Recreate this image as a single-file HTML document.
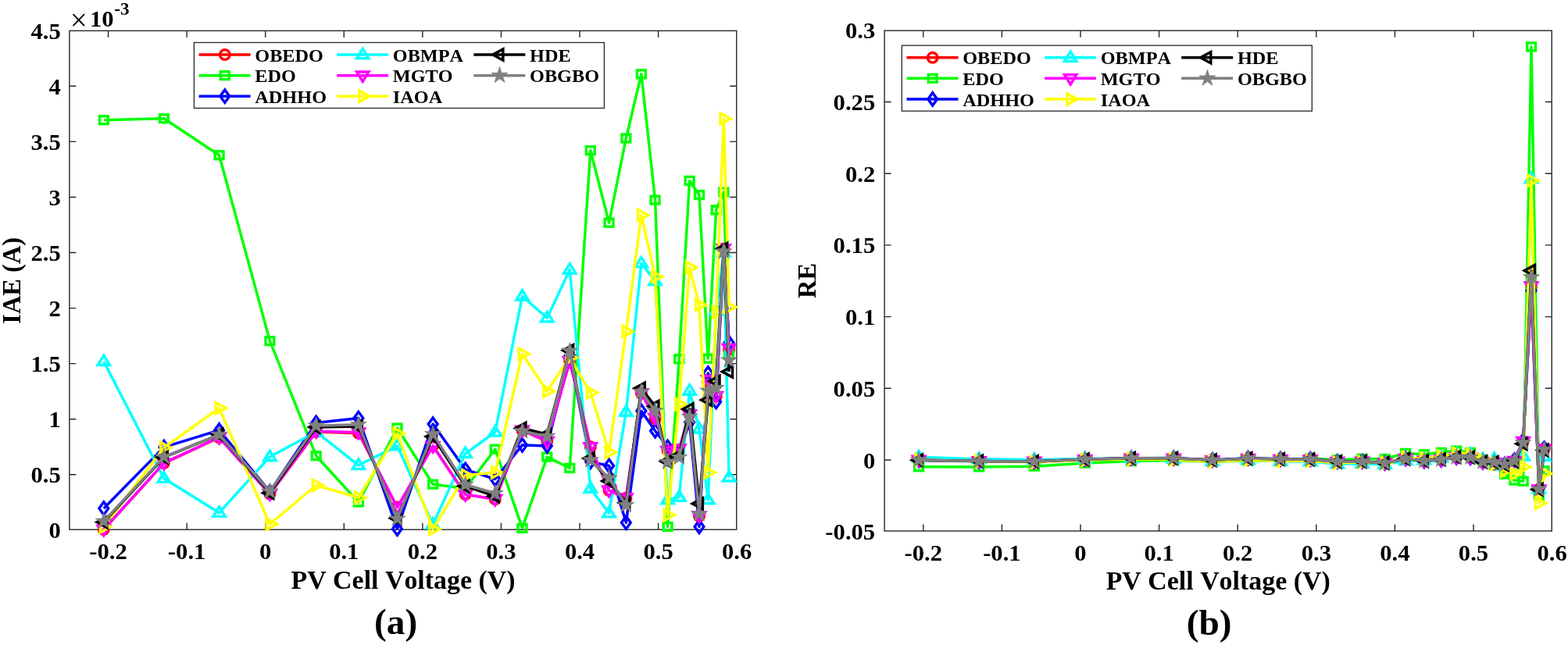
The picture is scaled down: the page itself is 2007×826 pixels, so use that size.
<!DOCTYPE html>
<html lang="en">
<head>
<meta charset="utf-8">
<title>IAE and RE versus PV cell voltage</title>
<style>
html,body{margin:0;padding:0;background:#ffffff;}
body{width:2007px;height:826px;overflow:hidden;}
svg{display:block;}
text{font-family:"Liberation Serif","DejaVu Serif",serif;font-weight:bold;fill:#000000;font-kerning:none;}
.tk{font-size:30.5px;}
.lg{font-size:22.8px;}
.ax{font-size:33.3px;}
.yl{font-size:34px;}
.cap{font-size:47.3px;}
.ex{font-size:23px;}
.mul{font-size:39px;font-weight:normal;}
</style>
</head>
<body>
<svg width="2007" height="826" viewBox="0 0 2007 826">
<rect x="0" y="0" width="2007" height="826" fill="#ffffff"/>
<g id="plot-a">
<rect x="88.9" y="39.4" width="853.9" height="638.8" fill="none" stroke="#262626" stroke-width="1.4"/>
<path d="M138.54 678.2v-8.5 M138.54 39.4v8.5" stroke="#262626" stroke-width="1.4" fill="none"/>
<path d="M239.12 678.2v-8.5 M239.12 39.4v8.5" stroke="#262626" stroke-width="1.4" fill="none"/>
<path d="M339.7 678.2v-8.5 M339.7 39.4v8.5" stroke="#262626" stroke-width="1.4" fill="none"/>
<path d="M440.28 678.2v-8.5 M440.28 39.4v8.5" stroke="#262626" stroke-width="1.4" fill="none"/>
<path d="M540.86 678.2v-8.5 M540.86 39.4v8.5" stroke="#262626" stroke-width="1.4" fill="none"/>
<path d="M641.44 678.2v-8.5 M641.44 39.4v8.5" stroke="#262626" stroke-width="1.4" fill="none"/>
<path d="M742.02 678.2v-8.5 M742.02 39.4v8.5" stroke="#262626" stroke-width="1.4" fill="none"/>
<path d="M842.6 678.2v-8.5 M842.6 39.4v8.5" stroke="#262626" stroke-width="1.4" fill="none"/>
<path d="M88.9 607.82h8.5 M942.8 607.82h-8.5" stroke="#262626" stroke-width="1.4" fill="none"/>
<path d="M88.9 536.75h8.5 M942.8 536.75h-8.5" stroke="#262626" stroke-width="1.4" fill="none"/>
<path d="M88.9 465.67h8.5 M942.8 465.67h-8.5" stroke="#262626" stroke-width="1.4" fill="none"/>
<path d="M88.9 394.6h8.5 M942.8 394.6h-8.5" stroke="#262626" stroke-width="1.4" fill="none"/>
<path d="M88.9 323.52h8.5 M942.8 323.52h-8.5" stroke="#262626" stroke-width="1.4" fill="none"/>
<path d="M88.9 252.45h8.5 M942.8 252.45h-8.5" stroke="#262626" stroke-width="1.4" fill="none"/>
<path d="M88.9 181.37h8.5 M942.8 181.37h-8.5" stroke="#262626" stroke-width="1.4" fill="none"/>
<path d="M88.9 110.3h8.5 M942.8 110.3h-8.5" stroke="#262626" stroke-width="1.4" fill="none"/>
<g>
<polyline points="132.81,678 209.85,593.08 280.56,560.42 345.43,632.56 404.67,553.04 458.89,554.74 508.47,649.6 554.14,571.07 595.68,633.13 633.8,639.38 668.5,551.19 700.28,565.11 729.25,462.16 755.8,572.35 779.54,628.02 801.36,637.67 820.87,503.34 838.58,536 854.57,577.18 869.25,575.76 882.63,530.32 895,660.96 906.27,489.14 916.63,507.6 926.38,318.46 933.12,447.96" fill="none" stroke="#ff0000" stroke-width="3.5" stroke-linejoin="round" stroke-linecap="butt"/>
<circle cx="132.81" cy="678" r="6.3" fill="none" stroke="#ff0000" stroke-width="3.4"/>
<circle cx="209.85" cy="593.08" r="6.3" fill="none" stroke="#ff0000" stroke-width="3.4"/>
<circle cx="280.56" cy="560.42" r="6.3" fill="none" stroke="#ff0000" stroke-width="3.4"/>
<circle cx="345.43" cy="632.56" r="6.3" fill="none" stroke="#ff0000" stroke-width="3.4"/>
<circle cx="404.67" cy="553.04" r="6.3" fill="none" stroke="#ff0000" stroke-width="3.4"/>
<circle cx="458.89" cy="554.74" r="6.3" fill="none" stroke="#ff0000" stroke-width="3.4"/>
<circle cx="508.47" cy="649.6" r="6.3" fill="none" stroke="#ff0000" stroke-width="3.4"/>
<circle cx="554.14" cy="571.07" r="6.3" fill="none" stroke="#ff0000" stroke-width="3.4"/>
<circle cx="595.68" cy="633.13" r="6.3" fill="none" stroke="#ff0000" stroke-width="3.4"/>
<circle cx="633.8" cy="639.38" r="6.3" fill="none" stroke="#ff0000" stroke-width="3.4"/>
<circle cx="668.5" cy="551.19" r="6.3" fill="none" stroke="#ff0000" stroke-width="3.4"/>
<circle cx="700.28" cy="565.11" r="6.3" fill="none" stroke="#ff0000" stroke-width="3.4"/>
<circle cx="729.25" cy="462.16" r="6.3" fill="none" stroke="#ff0000" stroke-width="3.4"/>
<circle cx="755.8" cy="572.35" r="6.3" fill="none" stroke="#ff0000" stroke-width="3.4"/>
<circle cx="779.54" cy="628.02" r="6.3" fill="none" stroke="#ff0000" stroke-width="3.4"/>
<circle cx="801.36" cy="637.67" r="6.3" fill="none" stroke="#ff0000" stroke-width="3.4"/>
<circle cx="820.87" cy="503.34" r="6.3" fill="none" stroke="#ff0000" stroke-width="3.4"/>
<circle cx="838.58" cy="536" r="6.3" fill="none" stroke="#ff0000" stroke-width="3.4"/>
<circle cx="854.57" cy="577.18" r="6.3" fill="none" stroke="#ff0000" stroke-width="3.4"/>
<circle cx="869.25" cy="575.76" r="6.3" fill="none" stroke="#ff0000" stroke-width="3.4"/>
<circle cx="882.63" cy="530.32" r="6.3" fill="none" stroke="#ff0000" stroke-width="3.4"/>
<circle cx="895" cy="660.96" r="6.3" fill="none" stroke="#ff0000" stroke-width="3.4"/>
<circle cx="906.27" cy="489.14" r="6.3" fill="none" stroke="#ff0000" stroke-width="3.4"/>
<circle cx="916.63" cy="507.6" r="6.3" fill="none" stroke="#ff0000" stroke-width="3.4"/>
<circle cx="926.38" cy="318.46" r="6.3" fill="none" stroke="#ff0000" stroke-width="3.4"/>
<circle cx="933.12" cy="447.96" r="6.3" fill="none" stroke="#ff0000" stroke-width="3.4"/>
</g>
<g>
<polyline points="132.81,153.74 209.85,151.75 280.56,198.75 345.43,436.6 404.67,583.71 458.89,643.07 508.47,548.07 554.14,620.21 595.68,625.46 633.8,575.19 668.5,676.44 700.28,585.13 729.25,599.47 755.8,192.64 779.54,285.23 801.36,177.02 820.87,94.81 838.58,256.12 854.57,674.45 869.25,459.75 882.63,231.41 895,249.59 906.27,459.18 916.63,268.9 926.38,246.04 933.12,454.35" fill="none" stroke="#00ff00" stroke-width="3.5" stroke-linejoin="round" stroke-linecap="butt"/>
<rect x="127.36" y="148.79" width="10.9" height="9.9" fill="none" stroke="#00ff00" stroke-width="3.4"/>
<rect x="204.4" y="146.8" width="10.9" height="9.9" fill="none" stroke="#00ff00" stroke-width="3.4"/>
<rect x="275.11" y="193.8" width="10.9" height="9.9" fill="none" stroke="#00ff00" stroke-width="3.4"/>
<rect x="339.98" y="431.65" width="10.9" height="9.9" fill="none" stroke="#00ff00" stroke-width="3.4"/>
<rect x="399.22" y="578.76" width="10.9" height="9.9" fill="none" stroke="#00ff00" stroke-width="3.4"/>
<rect x="453.44" y="638.12" width="10.9" height="9.9" fill="none" stroke="#00ff00" stroke-width="3.4"/>
<rect x="503.02" y="543.12" width="10.9" height="9.9" fill="none" stroke="#00ff00" stroke-width="3.4"/>
<rect x="548.69" y="615.26" width="10.9" height="9.9" fill="none" stroke="#00ff00" stroke-width="3.4"/>
<rect x="590.23" y="620.51" width="10.9" height="9.9" fill="none" stroke="#00ff00" stroke-width="3.4"/>
<rect x="628.35" y="570.24" width="10.9" height="9.9" fill="none" stroke="#00ff00" stroke-width="3.4"/>
<rect x="663.05" y="671.49" width="10.9" height="9.9" fill="none" stroke="#00ff00" stroke-width="3.4"/>
<rect x="694.83" y="580.18" width="10.9" height="9.9" fill="none" stroke="#00ff00" stroke-width="3.4"/>
<rect x="723.8" y="594.52" width="10.9" height="9.9" fill="none" stroke="#00ff00" stroke-width="3.4"/>
<rect x="750.35" y="187.69" width="10.9" height="9.9" fill="none" stroke="#00ff00" stroke-width="3.4"/>
<rect x="774.09" y="280.28" width="10.9" height="9.9" fill="none" stroke="#00ff00" stroke-width="3.4"/>
<rect x="795.91" y="172.07" width="10.9" height="9.9" fill="none" stroke="#00ff00" stroke-width="3.4"/>
<rect x="815.42" y="89.86" width="10.9" height="9.9" fill="none" stroke="#00ff00" stroke-width="3.4"/>
<rect x="833.13" y="251.17" width="10.9" height="9.9" fill="none" stroke="#00ff00" stroke-width="3.4"/>
<rect x="849.12" y="669.5" width="10.9" height="9.9" fill="none" stroke="#00ff00" stroke-width="3.4"/>
<rect x="863.8" y="454.8" width="10.9" height="9.9" fill="none" stroke="#00ff00" stroke-width="3.4"/>
<rect x="877.18" y="226.46" width="10.9" height="9.9" fill="none" stroke="#00ff00" stroke-width="3.4"/>
<rect x="889.55" y="244.64" width="10.9" height="9.9" fill="none" stroke="#00ff00" stroke-width="3.4"/>
<rect x="900.82" y="454.23" width="10.9" height="9.9" fill="none" stroke="#00ff00" stroke-width="3.4"/>
<rect x="911.18" y="263.95" width="10.9" height="9.9" fill="none" stroke="#00ff00" stroke-width="3.4"/>
<rect x="920.93" y="241.09" width="10.9" height="9.9" fill="none" stroke="#00ff00" stroke-width="3.4"/>
<rect x="927.67" y="449.4" width="10.9" height="9.9" fill="none" stroke="#00ff00" stroke-width="3.4"/>
</g>
<g>
<polyline points="132.81,651.02 209.85,572.64 280.56,550.91 345.43,629.72 404.67,541.4 458.89,535.57 508.47,677.15 554.14,543.1 595.68,601.32 633.8,613.53 668.5,569.94 700.28,571.07 729.25,455.06 755.8,591.38 779.54,596.49 801.36,669.2 820.87,526.34 838.58,551.76 854.57,572.35 869.25,579.59 882.63,540.83 895,674.45 906.27,478.06 916.63,514.42 926.38,323 933.12,438.87" fill="none" stroke="#0000ff" stroke-width="3.5" stroke-linejoin="round" stroke-linecap="butt"/>
<polygon points="132.81,642.82 138.71,651.02 132.81,659.22 126.91,651.02" fill="none" stroke="#0000ff" stroke-width="3.4" stroke-linejoin="miter" stroke-miterlimit="10"/>
<polygon points="209.85,564.44 215.75,572.64 209.85,580.84 203.95,572.64" fill="none" stroke="#0000ff" stroke-width="3.4" stroke-linejoin="miter" stroke-miterlimit="10"/>
<polygon points="280.56,542.71 286.46,550.91 280.56,559.11 274.66,550.91" fill="none" stroke="#0000ff" stroke-width="3.4" stroke-linejoin="miter" stroke-miterlimit="10"/>
<polygon points="345.43,621.52 351.33,629.72 345.43,637.92 339.53,629.72" fill="none" stroke="#0000ff" stroke-width="3.4" stroke-linejoin="miter" stroke-miterlimit="10"/>
<polygon points="404.67,533.2 410.57,541.4 404.67,549.6 398.77,541.4" fill="none" stroke="#0000ff" stroke-width="3.4" stroke-linejoin="miter" stroke-miterlimit="10"/>
<polygon points="458.89,527.37 464.79,535.57 458.89,543.77 452.99,535.57" fill="none" stroke="#0000ff" stroke-width="3.4" stroke-linejoin="miter" stroke-miterlimit="10"/>
<polygon points="508.47,668.95 514.37,677.15 508.47,685.35 502.57,677.15" fill="none" stroke="#0000ff" stroke-width="3.4" stroke-linejoin="miter" stroke-miterlimit="10"/>
<polygon points="554.14,534.9 560.04,543.1 554.14,551.3 548.24,543.1" fill="none" stroke="#0000ff" stroke-width="3.4" stroke-linejoin="miter" stroke-miterlimit="10"/>
<polygon points="595.68,593.12 601.58,601.32 595.68,609.52 589.78,601.32" fill="none" stroke="#0000ff" stroke-width="3.4" stroke-linejoin="miter" stroke-miterlimit="10"/>
<polygon points="633.8,605.33 639.7,613.53 633.8,621.73 627.9,613.53" fill="none" stroke="#0000ff" stroke-width="3.4" stroke-linejoin="miter" stroke-miterlimit="10"/>
<polygon points="668.5,561.74 674.4,569.94 668.5,578.14 662.6,569.94" fill="none" stroke="#0000ff" stroke-width="3.4" stroke-linejoin="miter" stroke-miterlimit="10"/>
<polygon points="700.28,562.87 706.18,571.07 700.28,579.27 694.38,571.07" fill="none" stroke="#0000ff" stroke-width="3.4" stroke-linejoin="miter" stroke-miterlimit="10"/>
<polygon points="729.25,446.86 735.15,455.06 729.25,463.26 723.35,455.06" fill="none" stroke="#0000ff" stroke-width="3.4" stroke-linejoin="miter" stroke-miterlimit="10"/>
<polygon points="755.8,583.18 761.7,591.38 755.8,599.58 749.9,591.38" fill="none" stroke="#0000ff" stroke-width="3.4" stroke-linejoin="miter" stroke-miterlimit="10"/>
<polygon points="779.54,588.29 785.44,596.49 779.54,604.69 773.64,596.49" fill="none" stroke="#0000ff" stroke-width="3.4" stroke-linejoin="miter" stroke-miterlimit="10"/>
<polygon points="801.36,661 807.26,669.2 801.36,677.4 795.46,669.2" fill="none" stroke="#0000ff" stroke-width="3.4" stroke-linejoin="miter" stroke-miterlimit="10"/>
<polygon points="820.87,518.14 826.77,526.34 820.87,534.54 814.97,526.34" fill="none" stroke="#0000ff" stroke-width="3.4" stroke-linejoin="miter" stroke-miterlimit="10"/>
<polygon points="838.58,543.56 844.48,551.76 838.58,559.96 832.68,551.76" fill="none" stroke="#0000ff" stroke-width="3.4" stroke-linejoin="miter" stroke-miterlimit="10"/>
<polygon points="854.57,564.15 860.47,572.35 854.57,580.55 848.67,572.35" fill="none" stroke="#0000ff" stroke-width="3.4" stroke-linejoin="miter" stroke-miterlimit="10"/>
<polygon points="869.25,571.39 875.15,579.59 869.25,587.79 863.35,579.59" fill="none" stroke="#0000ff" stroke-width="3.4" stroke-linejoin="miter" stroke-miterlimit="10"/>
<polygon points="882.63,532.63 888.53,540.83 882.63,549.03 876.73,540.83" fill="none" stroke="#0000ff" stroke-width="3.4" stroke-linejoin="miter" stroke-miterlimit="10"/>
<polygon points="895,666.25 900.9,674.45 895,682.65 889.1,674.45" fill="none" stroke="#0000ff" stroke-width="3.4" stroke-linejoin="miter" stroke-miterlimit="10"/>
<polygon points="906.27,469.86 912.17,478.06 906.27,486.26 900.37,478.06" fill="none" stroke="#0000ff" stroke-width="3.4" stroke-linejoin="miter" stroke-miterlimit="10"/>
<polygon points="916.63,506.22 922.53,514.42 916.63,522.62 910.73,514.42" fill="none" stroke="#0000ff" stroke-width="3.4" stroke-linejoin="miter" stroke-miterlimit="10"/>
<polygon points="926.38,314.8 932.28,323 926.38,331.2 920.48,323" fill="none" stroke="#0000ff" stroke-width="3.4" stroke-linejoin="miter" stroke-miterlimit="10"/>
<polygon points="933.12,430.67 939.02,438.87 933.12,447.07 927.22,438.87" fill="none" stroke="#0000ff" stroke-width="3.4" stroke-linejoin="miter" stroke-miterlimit="10"/>
</g>
<g>
<polyline points="132.81,462.87 209.85,612.68 280.56,656.7 345.43,584.99 404.67,553.04 458.89,595.78 508.47,571.07 554.14,671.61 595.68,580.87 633.8,553.47 668.5,379.37 700.28,407.21 729.25,345.44 755.8,625.6 779.54,657.13 801.36,527.48 820.87,337.2 838.58,359.92 854.57,640.09 869.25,636.54 882.63,500.5 895,549.35 906.27,640.09 916.63,398.26 926.38,323.43 933.12,611.26" fill="none" stroke="#00ffff" stroke-width="3.5" stroke-linejoin="round" stroke-linecap="butt"/>
<polygon points="132.81,455.07 140.46,467.57 125.16,467.57" fill="none" stroke="#00ffff" stroke-width="3.4" stroke-linejoin="miter" stroke-miterlimit="10"/>
<polygon points="209.85,604.88 217.5,617.38 202.2,617.38" fill="none" stroke="#00ffff" stroke-width="3.4" stroke-linejoin="miter" stroke-miterlimit="10"/>
<polygon points="280.56,648.9 288.21,661.4 272.91,661.4" fill="none" stroke="#00ffff" stroke-width="3.4" stroke-linejoin="miter" stroke-miterlimit="10"/>
<polygon points="345.43,577.19 353.08,589.69 337.78,589.69" fill="none" stroke="#00ffff" stroke-width="3.4" stroke-linejoin="miter" stroke-miterlimit="10"/>
<polygon points="404.67,545.24 412.32,557.74 397.02,557.74" fill="none" stroke="#00ffff" stroke-width="3.4" stroke-linejoin="miter" stroke-miterlimit="10"/>
<polygon points="458.89,587.98 466.54,600.48 451.24,600.48" fill="none" stroke="#00ffff" stroke-width="3.4" stroke-linejoin="miter" stroke-miterlimit="10"/>
<polygon points="508.47,563.27 516.12,575.77 500.82,575.77" fill="none" stroke="#00ffff" stroke-width="3.4" stroke-linejoin="miter" stroke-miterlimit="10"/>
<polygon points="554.14,663.81 561.79,676.31 546.49,676.31" fill="none" stroke="#00ffff" stroke-width="3.4" stroke-linejoin="miter" stroke-miterlimit="10"/>
<polygon points="595.68,573.07 603.33,585.57 588.03,585.57" fill="none" stroke="#00ffff" stroke-width="3.4" stroke-linejoin="miter" stroke-miterlimit="10"/>
<polygon points="633.8,545.67 641.45,558.17 626.15,558.17" fill="none" stroke="#00ffff" stroke-width="3.4" stroke-linejoin="miter" stroke-miterlimit="10"/>
<polygon points="668.5,371.57 676.15,384.07 660.85,384.07" fill="none" stroke="#00ffff" stroke-width="3.4" stroke-linejoin="miter" stroke-miterlimit="10"/>
<polygon points="700.28,399.41 707.93,411.91 692.63,411.91" fill="none" stroke="#00ffff" stroke-width="3.4" stroke-linejoin="miter" stroke-miterlimit="10"/>
<polygon points="729.25,337.64 736.9,350.14 721.6,350.14" fill="none" stroke="#00ffff" stroke-width="3.4" stroke-linejoin="miter" stroke-miterlimit="10"/>
<polygon points="755.8,617.8 763.45,630.3 748.15,630.3" fill="none" stroke="#00ffff" stroke-width="3.4" stroke-linejoin="miter" stroke-miterlimit="10"/>
<polygon points="779.54,649.33 787.19,661.83 771.89,661.83" fill="none" stroke="#00ffff" stroke-width="3.4" stroke-linejoin="miter" stroke-miterlimit="10"/>
<polygon points="801.36,519.68 809.01,532.18 793.71,532.18" fill="none" stroke="#00ffff" stroke-width="3.4" stroke-linejoin="miter" stroke-miterlimit="10"/>
<polygon points="820.87,329.4 828.52,341.9 813.22,341.9" fill="none" stroke="#00ffff" stroke-width="3.4" stroke-linejoin="miter" stroke-miterlimit="10"/>
<polygon points="838.58,352.12 846.23,364.62 830.93,364.62" fill="none" stroke="#00ffff" stroke-width="3.4" stroke-linejoin="miter" stroke-miterlimit="10"/>
<polygon points="854.57,632.29 862.22,644.79 846.92,644.79" fill="none" stroke="#00ffff" stroke-width="3.4" stroke-linejoin="miter" stroke-miterlimit="10"/>
<polygon points="869.25,628.74 876.9,641.24 861.6,641.24" fill="none" stroke="#00ffff" stroke-width="3.4" stroke-linejoin="miter" stroke-miterlimit="10"/>
<polygon points="882.63,492.7 890.28,505.2 874.98,505.2" fill="none" stroke="#00ffff" stroke-width="3.4" stroke-linejoin="miter" stroke-miterlimit="10"/>
<polygon points="895,541.55 902.65,554.05 887.35,554.05" fill="none" stroke="#00ffff" stroke-width="3.4" stroke-linejoin="miter" stroke-miterlimit="10"/>
<polygon points="906.27,632.29 913.92,644.79 898.62,644.79" fill="none" stroke="#00ffff" stroke-width="3.4" stroke-linejoin="miter" stroke-miterlimit="10"/>
<polygon points="916.63,390.46 924.28,402.96 908.98,402.96" fill="none" stroke="#00ffff" stroke-width="3.4" stroke-linejoin="miter" stroke-miterlimit="10"/>
<polygon points="926.38,315.63 934.03,328.13 918.73,328.13" fill="none" stroke="#00ffff" stroke-width="3.4" stroke-linejoin="miter" stroke-miterlimit="10"/>
<polygon points="933.12,603.46 940.77,615.96 925.47,615.96" fill="none" stroke="#00ffff" stroke-width="3.4" stroke-linejoin="miter" stroke-miterlimit="10"/>
</g>
<g>
<polyline points="132.81,678 209.85,592.8 280.56,560.14 345.43,632.56 404.67,552.19 458.89,553.75 508.47,649.6 554.14,571.07 595.68,633.13 633.8,639.23 668.5,550.91 700.28,565.11 729.25,462.16 755.8,572.35 779.54,628.02 801.36,637.67 820.87,503.34 838.58,534.86 854.57,577.18 869.25,574.77 882.63,530.32 895,660.68 906.27,486.3 916.63,507.03 926.38,318.46 933.12,446.11" fill="none" stroke="#ff00ff" stroke-width="3.5" stroke-linejoin="round" stroke-linecap="butt"/>
<polygon points="132.81,685.8 140.46,673.3 125.16,673.3" fill="none" stroke="#ff00ff" stroke-width="3.4" stroke-linejoin="miter" stroke-miterlimit="10"/>
<polygon points="209.85,600.6 217.5,588.1 202.2,588.1" fill="none" stroke="#ff00ff" stroke-width="3.4" stroke-linejoin="miter" stroke-miterlimit="10"/>
<polygon points="280.56,567.94 288.21,555.44 272.91,555.44" fill="none" stroke="#ff00ff" stroke-width="3.4" stroke-linejoin="miter" stroke-miterlimit="10"/>
<polygon points="345.43,640.36 353.08,627.86 337.78,627.86" fill="none" stroke="#ff00ff" stroke-width="3.4" stroke-linejoin="miter" stroke-miterlimit="10"/>
<polygon points="404.67,559.99 412.32,547.49 397.02,547.49" fill="none" stroke="#ff00ff" stroke-width="3.4" stroke-linejoin="miter" stroke-miterlimit="10"/>
<polygon points="458.89,561.55 466.54,549.05 451.24,549.05" fill="none" stroke="#ff00ff" stroke-width="3.4" stroke-linejoin="miter" stroke-miterlimit="10"/>
<polygon points="508.47,657.4 516.12,644.9 500.82,644.9" fill="none" stroke="#ff00ff" stroke-width="3.4" stroke-linejoin="miter" stroke-miterlimit="10"/>
<polygon points="554.14,578.87 561.79,566.37 546.49,566.37" fill="none" stroke="#ff00ff" stroke-width="3.4" stroke-linejoin="miter" stroke-miterlimit="10"/>
<polygon points="595.68,640.93 603.33,628.43 588.03,628.43" fill="none" stroke="#ff00ff" stroke-width="3.4" stroke-linejoin="miter" stroke-miterlimit="10"/>
<polygon points="633.8,647.03 641.45,634.53 626.15,634.53" fill="none" stroke="#ff00ff" stroke-width="3.4" stroke-linejoin="miter" stroke-miterlimit="10"/>
<polygon points="668.5,558.71 676.15,546.21 660.85,546.21" fill="none" stroke="#ff00ff" stroke-width="3.4" stroke-linejoin="miter" stroke-miterlimit="10"/>
<polygon points="700.28,572.91 707.93,560.41 692.63,560.41" fill="none" stroke="#ff00ff" stroke-width="3.4" stroke-linejoin="miter" stroke-miterlimit="10"/>
<polygon points="729.25,469.96 736.9,457.46 721.6,457.46" fill="none" stroke="#ff00ff" stroke-width="3.4" stroke-linejoin="miter" stroke-miterlimit="10"/>
<polygon points="755.8,580.15 763.45,567.65 748.15,567.65" fill="none" stroke="#ff00ff" stroke-width="3.4" stroke-linejoin="miter" stroke-miterlimit="10"/>
<polygon points="779.54,635.82 787.19,623.32 771.89,623.32" fill="none" stroke="#ff00ff" stroke-width="3.4" stroke-linejoin="miter" stroke-miterlimit="10"/>
<polygon points="801.36,645.47 809.01,632.97 793.71,632.97" fill="none" stroke="#ff00ff" stroke-width="3.4" stroke-linejoin="miter" stroke-miterlimit="10"/>
<polygon points="820.87,511.14 828.52,498.64 813.22,498.64" fill="none" stroke="#ff00ff" stroke-width="3.4" stroke-linejoin="miter" stroke-miterlimit="10"/>
<polygon points="838.58,542.66 846.23,530.16 830.93,530.16" fill="none" stroke="#ff00ff" stroke-width="3.4" stroke-linejoin="miter" stroke-miterlimit="10"/>
<polygon points="854.57,584.98 862.22,572.48 846.92,572.48" fill="none" stroke="#ff00ff" stroke-width="3.4" stroke-linejoin="miter" stroke-miterlimit="10"/>
<polygon points="869.25,582.57 876.9,570.07 861.6,570.07" fill="none" stroke="#ff00ff" stroke-width="3.4" stroke-linejoin="miter" stroke-miterlimit="10"/>
<polygon points="882.63,538.12 890.28,525.62 874.98,525.62" fill="none" stroke="#ff00ff" stroke-width="3.4" stroke-linejoin="miter" stroke-miterlimit="10"/>
<polygon points="895,668.48 902.65,655.98 887.35,655.98" fill="none" stroke="#ff00ff" stroke-width="3.4" stroke-linejoin="miter" stroke-miterlimit="10"/>
<polygon points="906.27,494.1 913.92,481.6 898.62,481.6" fill="none" stroke="#ff00ff" stroke-width="3.4" stroke-linejoin="miter" stroke-miterlimit="10"/>
<polygon points="916.63,514.83 924.28,502.33 908.98,502.33" fill="none" stroke="#ff00ff" stroke-width="3.4" stroke-linejoin="miter" stroke-miterlimit="10"/>
<polygon points="926.38,326.26 934.03,313.76 918.73,313.76" fill="none" stroke="#ff00ff" stroke-width="3.4" stroke-linejoin="miter" stroke-miterlimit="10"/>
<polygon points="933.12,453.91 940.77,441.41 925.47,441.41" fill="none" stroke="#ff00ff" stroke-width="3.4" stroke-linejoin="miter" stroke-miterlimit="10"/>
</g>
<g>
<polyline points="132.81,674.59 209.85,573.35 280.56,522.65 345.43,671.18 404.67,621.48 458.89,637.25 508.47,555.31 554.14,677.57 595.68,608.7 633.8,605.01 668.5,453.21 700.28,501.07 729.25,457.9 755.8,502.77 779.54,579.17 801.36,424.53 820.87,275.43 838.58,354.24 854.57,659.54 869.25,517.82 882.63,342.6 895,390.45 906.27,605.01 916.63,399.68 926.38,151.89 933.12,393.15" fill="none" stroke="#ffff00" stroke-width="3.5" stroke-linejoin="round" stroke-linecap="butt"/>
<polygon points="141.61,674.59 128.41,681.74 128.41,667.44" fill="none" stroke="#ffff00" stroke-width="3.4" stroke-linejoin="miter" stroke-miterlimit="10"/>
<polygon points="218.65,573.35 205.45,580.5 205.45,566.2" fill="none" stroke="#ffff00" stroke-width="3.4" stroke-linejoin="miter" stroke-miterlimit="10"/>
<polygon points="289.36,522.65 276.16,529.8 276.16,515.5" fill="none" stroke="#ffff00" stroke-width="3.4" stroke-linejoin="miter" stroke-miterlimit="10"/>
<polygon points="354.23,671.18 341.03,678.33 341.03,664.03" fill="none" stroke="#ffff00" stroke-width="3.4" stroke-linejoin="miter" stroke-miterlimit="10"/>
<polygon points="413.47,621.48 400.27,628.63 400.27,614.33" fill="none" stroke="#ffff00" stroke-width="3.4" stroke-linejoin="miter" stroke-miterlimit="10"/>
<polygon points="467.69,637.25 454.49,644.4 454.49,630.1" fill="none" stroke="#ffff00" stroke-width="3.4" stroke-linejoin="miter" stroke-miterlimit="10"/>
<polygon points="517.27,555.31 504.07,562.46 504.07,548.16" fill="none" stroke="#ffff00" stroke-width="3.4" stroke-linejoin="miter" stroke-miterlimit="10"/>
<polygon points="562.94,677.57 549.74,684.72 549.74,670.42" fill="none" stroke="#ffff00" stroke-width="3.4" stroke-linejoin="miter" stroke-miterlimit="10"/>
<polygon points="604.48,608.7 591.28,615.85 591.28,601.55" fill="none" stroke="#ffff00" stroke-width="3.4" stroke-linejoin="miter" stroke-miterlimit="10"/>
<polygon points="642.6,605.01 629.4,612.16 629.4,597.86" fill="none" stroke="#ffff00" stroke-width="3.4" stroke-linejoin="miter" stroke-miterlimit="10"/>
<polygon points="677.3,453.21 664.1,460.36 664.1,446.06" fill="none" stroke="#ffff00" stroke-width="3.4" stroke-linejoin="miter" stroke-miterlimit="10"/>
<polygon points="709.08,501.07 695.88,508.22 695.88,493.92" fill="none" stroke="#ffff00" stroke-width="3.4" stroke-linejoin="miter" stroke-miterlimit="10"/>
<polygon points="738.05,457.9 724.85,465.05 724.85,450.75" fill="none" stroke="#ffff00" stroke-width="3.4" stroke-linejoin="miter" stroke-miterlimit="10"/>
<polygon points="764.6,502.77 751.4,509.92 751.4,495.62" fill="none" stroke="#ffff00" stroke-width="3.4" stroke-linejoin="miter" stroke-miterlimit="10"/>
<polygon points="788.34,579.17 775.14,586.32 775.14,572.02" fill="none" stroke="#ffff00" stroke-width="3.4" stroke-linejoin="miter" stroke-miterlimit="10"/>
<polygon points="810.16,424.53 796.96,431.68 796.96,417.38" fill="none" stroke="#ffff00" stroke-width="3.4" stroke-linejoin="miter" stroke-miterlimit="10"/>
<polygon points="829.67,275.43 816.47,282.58 816.47,268.28" fill="none" stroke="#ffff00" stroke-width="3.4" stroke-linejoin="miter" stroke-miterlimit="10"/>
<polygon points="847.38,354.24 834.18,361.39 834.18,347.09" fill="none" stroke="#ffff00" stroke-width="3.4" stroke-linejoin="miter" stroke-miterlimit="10"/>
<polygon points="863.37,659.54 850.17,666.69 850.17,652.39" fill="none" stroke="#ffff00" stroke-width="3.4" stroke-linejoin="miter" stroke-miterlimit="10"/>
<polygon points="878.05,517.82 864.85,524.97 864.85,510.67" fill="none" stroke="#ffff00" stroke-width="3.4" stroke-linejoin="miter" stroke-miterlimit="10"/>
<polygon points="891.43,342.6 878.23,349.75 878.23,335.45" fill="none" stroke="#ffff00" stroke-width="3.4" stroke-linejoin="miter" stroke-miterlimit="10"/>
<polygon points="903.8,390.45 890.6,397.6 890.6,383.3" fill="none" stroke="#ffff00" stroke-width="3.4" stroke-linejoin="miter" stroke-miterlimit="10"/>
<polygon points="915.07,605.01 901.87,612.16 901.87,597.86" fill="none" stroke="#ffff00" stroke-width="3.4" stroke-linejoin="miter" stroke-miterlimit="10"/>
<polygon points="925.43,399.68 912.23,406.83 912.23,392.53" fill="none" stroke="#ffff00" stroke-width="3.4" stroke-linejoin="miter" stroke-miterlimit="10"/>
<polygon points="935.18,151.89 921.98,159.04 921.98,144.74" fill="none" stroke="#ffff00" stroke-width="3.4" stroke-linejoin="miter" stroke-miterlimit="10"/>
<polygon points="941.92,393.15 928.72,400.3 928.72,386" fill="none" stroke="#ffff00" stroke-width="3.4" stroke-linejoin="miter" stroke-miterlimit="10"/>
</g>
<g>
<polyline points="132.81,668.63 209.85,585.7 280.56,556.59 345.43,631.14 404.67,546.93 458.89,545.94 508.47,663.8 554.14,559 595.68,622.62 633.8,635.4 668.5,548.5 700.28,556.16 729.25,448.67 755.8,587.12 779.54,615.95 801.36,643.78 820.87,497.23 838.58,520.38 854.57,590.67 869.25,583.29 882.63,523.93 895,645.06 906.27,512.14 916.63,488.29 926.38,318.46 933.12,475.93" fill="none" stroke="#000000" stroke-width="3.5" stroke-linejoin="round" stroke-linecap="butt"/>
<polygon points="124.01,668.63 137.21,675.78 137.21,661.48" fill="none" stroke="#000000" stroke-width="3.4" stroke-linejoin="miter" stroke-miterlimit="10"/>
<polygon points="201.05,585.7 214.25,592.85 214.25,578.55" fill="none" stroke="#000000" stroke-width="3.4" stroke-linejoin="miter" stroke-miterlimit="10"/>
<polygon points="271.76,556.59 284.96,563.74 284.96,549.44" fill="none" stroke="#000000" stroke-width="3.4" stroke-linejoin="miter" stroke-miterlimit="10"/>
<polygon points="336.63,631.14 349.83,638.29 349.83,623.99" fill="none" stroke="#000000" stroke-width="3.4" stroke-linejoin="miter" stroke-miterlimit="10"/>
<polygon points="395.87,546.93 409.07,554.08 409.07,539.78" fill="none" stroke="#000000" stroke-width="3.4" stroke-linejoin="miter" stroke-miterlimit="10"/>
<polygon points="450.09,545.94 463.29,553.09 463.29,538.79" fill="none" stroke="#000000" stroke-width="3.4" stroke-linejoin="miter" stroke-miterlimit="10"/>
<polygon points="499.67,663.8 512.87,670.95 512.87,656.65" fill="none" stroke="#000000" stroke-width="3.4" stroke-linejoin="miter" stroke-miterlimit="10"/>
<polygon points="545.34,559 558.54,566.15 558.54,551.85" fill="none" stroke="#000000" stroke-width="3.4" stroke-linejoin="miter" stroke-miterlimit="10"/>
<polygon points="586.88,622.62 600.08,629.77 600.08,615.47" fill="none" stroke="#000000" stroke-width="3.4" stroke-linejoin="miter" stroke-miterlimit="10"/>
<polygon points="625,635.4 638.2,642.55 638.2,628.25" fill="none" stroke="#000000" stroke-width="3.4" stroke-linejoin="miter" stroke-miterlimit="10"/>
<polygon points="659.7,548.5 672.9,555.65 672.9,541.35" fill="none" stroke="#000000" stroke-width="3.4" stroke-linejoin="miter" stroke-miterlimit="10"/>
<polygon points="691.48,556.16 704.68,563.31 704.68,549.01" fill="none" stroke="#000000" stroke-width="3.4" stroke-linejoin="miter" stroke-miterlimit="10"/>
<polygon points="720.45,448.67 733.65,455.82 733.65,441.52" fill="none" stroke="#000000" stroke-width="3.4" stroke-linejoin="miter" stroke-miterlimit="10"/>
<polygon points="747,587.12 760.2,594.27 760.2,579.97" fill="none" stroke="#000000" stroke-width="3.4" stroke-linejoin="miter" stroke-miterlimit="10"/>
<polygon points="770.74,615.95 783.94,623.1 783.94,608.8" fill="none" stroke="#000000" stroke-width="3.4" stroke-linejoin="miter" stroke-miterlimit="10"/>
<polygon points="792.56,643.78 805.76,650.93 805.76,636.63" fill="none" stroke="#000000" stroke-width="3.4" stroke-linejoin="miter" stroke-miterlimit="10"/>
<polygon points="812.07,497.23 825.27,504.38 825.27,490.08" fill="none" stroke="#000000" stroke-width="3.4" stroke-linejoin="miter" stroke-miterlimit="10"/>
<polygon points="829.78,520.38 842.98,527.53 842.98,513.23" fill="none" stroke="#000000" stroke-width="3.4" stroke-linejoin="miter" stroke-miterlimit="10"/>
<polygon points="845.77,590.67 858.97,597.82 858.97,583.52" fill="none" stroke="#000000" stroke-width="3.4" stroke-linejoin="miter" stroke-miterlimit="10"/>
<polygon points="860.45,583.29 873.65,590.44 873.65,576.14" fill="none" stroke="#000000" stroke-width="3.4" stroke-linejoin="miter" stroke-miterlimit="10"/>
<polygon points="873.83,523.93 887.03,531.08 887.03,516.78" fill="none" stroke="#000000" stroke-width="3.4" stroke-linejoin="miter" stroke-miterlimit="10"/>
<polygon points="886.2,645.06 899.4,652.21 899.4,637.91" fill="none" stroke="#000000" stroke-width="3.4" stroke-linejoin="miter" stroke-miterlimit="10"/>
<polygon points="897.47,512.14 910.67,519.29 910.67,504.99" fill="none" stroke="#000000" stroke-width="3.4" stroke-linejoin="miter" stroke-miterlimit="10"/>
<polygon points="907.83,488.29 921.03,495.44 921.03,481.14" fill="none" stroke="#000000" stroke-width="3.4" stroke-linejoin="miter" stroke-miterlimit="10"/>
<polygon points="917.58,318.46 930.78,325.61 930.78,311.31" fill="none" stroke="#000000" stroke-width="3.4" stroke-linejoin="miter" stroke-miterlimit="10"/>
<polygon points="924.32,475.93 937.52,483.08 937.52,468.78" fill="none" stroke="#000000" stroke-width="3.4" stroke-linejoin="miter" stroke-miterlimit="10"/>
</g>
<g>
<polyline points="132.81,667.49 209.85,585.13 280.56,556.59 345.43,629.29 404.67,545.23 458.89,543.81 508.47,664.37 554.14,555.88 595.68,620.77 633.8,631.71 668.5,552.19 700.28,558.72 729.25,449.38 755.8,589.25 779.54,612.25 801.36,646.9 820.87,501.64 838.58,526.06 854.57,591.66 869.25,585.7 882.63,533.59 895,658.26 906.27,500.5 916.63,496.95 926.38,322.15 933.12,461.31" fill="none" stroke="#808080" stroke-width="3.5" stroke-linejoin="round" stroke-linecap="butt"/>
<polygon points="132.81,656.49 135.28,664.09 143.27,664.09 136.8,668.79 139.27,676.39 132.81,671.69 126.34,676.39 128.81,668.79 122.35,664.09 130.34,664.09" fill="#808080" stroke="#808080" stroke-width="0.8" stroke-linejoin="miter"/>
<polygon points="209.85,574.13 212.32,581.73 220.31,581.73 213.85,586.43 216.32,594.03 209.85,589.33 203.39,594.03 205.85,586.43 199.39,581.73 207.38,581.73" fill="#808080" stroke="#808080" stroke-width="0.8" stroke-linejoin="miter"/>
<polygon points="280.56,545.59 283.03,553.19 291.02,553.19 284.56,557.89 287.02,565.49 280.56,560.79 274.09,565.49 276.56,557.89 270.1,553.19 278.09,553.19" fill="#808080" stroke="#808080" stroke-width="0.8" stroke-linejoin="miter"/>
<polygon points="345.43,618.29 347.9,625.89 355.89,625.89 349.43,630.59 351.9,638.19 345.43,633.5 338.97,638.19 341.44,630.59 334.97,625.89 342.96,625.89" fill="#808080" stroke="#808080" stroke-width="0.8" stroke-linejoin="miter"/>
<polygon points="404.67,534.23 407.14,541.83 415.14,541.83 408.67,546.53 411.14,554.13 404.67,549.43 398.21,554.13 400.68,546.53 394.21,541.83 402.2,541.83" fill="#808080" stroke="#808080" stroke-width="0.8" stroke-linejoin="miter"/>
<polygon points="458.89,532.81 461.36,540.41 469.35,540.41 462.88,545.11 465.35,552.71 458.89,548.01 452.42,552.71 454.89,545.11 448.43,540.41 456.42,540.41" fill="#808080" stroke="#808080" stroke-width="0.8" stroke-linejoin="miter"/>
<polygon points="508.47,653.37 510.94,660.97 518.93,660.97 512.47,665.67 514.94,673.27 508.47,668.57 502.01,673.27 504.48,665.67 498.01,660.97 506,660.97" fill="#808080" stroke="#808080" stroke-width="0.8" stroke-linejoin="miter"/>
<polygon points="554.14,544.88 556.61,552.48 564.6,552.48 558.13,557.18 560.6,564.78 554.14,560.08 547.67,564.78 550.14,557.18 543.67,552.48 551.67,552.48" fill="#808080" stroke="#808080" stroke-width="0.8" stroke-linejoin="miter"/>
<polygon points="595.68,609.77 598.15,617.37 606.14,617.37 599.67,622.07 602.14,629.67 595.68,624.98 589.21,629.67 591.68,622.07 585.21,617.37 593.21,617.37" fill="#808080" stroke="#808080" stroke-width="0.8" stroke-linejoin="miter"/>
<polygon points="633.8,620.71 636.27,628.31 644.26,628.31 637.79,633.01 640.26,640.61 633.8,635.91 627.33,640.61 629.8,633.01 623.33,628.31 631.33,628.31" fill="#808080" stroke="#808080" stroke-width="0.8" stroke-linejoin="miter"/>
<polygon points="668.5,541.19 670.97,548.79 678.96,548.79 672.49,553.49 674.96,561.09 668.5,556.39 662.03,561.09 664.5,553.49 658.03,548.79 666.03,548.79" fill="#808080" stroke="#808080" stroke-width="0.8" stroke-linejoin="miter"/>
<polygon points="700.28,547.72 702.75,555.32 710.74,555.32 704.28,560.02 706.74,567.62 700.28,562.92 693.81,567.62 696.28,560.02 689.82,555.32 697.81,555.32" fill="#808080" stroke="#808080" stroke-width="0.8" stroke-linejoin="miter"/>
<polygon points="729.25,438.38 731.72,445.98 739.71,445.98 733.24,450.68 735.71,458.28 729.25,453.58 722.78,458.28 725.25,450.68 718.78,445.98 726.78,445.98" fill="#808080" stroke="#808080" stroke-width="0.8" stroke-linejoin="miter"/>
<polygon points="755.8,578.25 758.27,585.85 766.26,585.85 759.8,590.55 762.27,598.15 755.8,593.45 749.33,598.15 751.8,590.55 745.34,585.85 753.33,585.85" fill="#808080" stroke="#808080" stroke-width="0.8" stroke-linejoin="miter"/>
<polygon points="779.54,601.25 782.01,608.85 790,608.85 783.53,613.55 786,621.15 779.54,616.46 773.07,621.15 775.54,613.55 769.07,608.85 777.07,608.85" fill="#808080" stroke="#808080" stroke-width="0.8" stroke-linejoin="miter"/>
<polygon points="801.36,635.9 803.83,643.5 811.82,643.5 805.36,648.2 807.83,655.8 801.36,651.1 794.9,655.8 797.37,648.2 790.9,643.5 798.89,643.5" fill="#808080" stroke="#808080" stroke-width="0.8" stroke-linejoin="miter"/>
<polygon points="820.87,490.64 823.34,498.24 831.34,498.24 824.87,502.93 827.34,510.54 820.87,505.84 814.41,510.54 816.88,502.93 810.41,498.24 818.4,498.24" fill="#808080" stroke="#808080" stroke-width="0.8" stroke-linejoin="miter"/>
<polygon points="838.58,515.06 841.05,522.66 849.04,522.66 842.57,527.36 845.04,534.96 838.58,530.26 832.11,534.96 834.58,527.36 828.12,522.66 836.11,522.66" fill="#808080" stroke="#808080" stroke-width="0.8" stroke-linejoin="miter"/>
<polygon points="854.57,580.66 857.04,588.26 865.03,588.26 858.57,592.96 861.03,600.56 854.57,595.87 848.1,600.56 850.57,592.96 844.11,588.26 852.1,588.26" fill="#808080" stroke="#808080" stroke-width="0.8" stroke-linejoin="miter"/>
<polygon points="869.25,574.7 871.72,582.3 879.72,582.3 873.25,587 875.72,594.6 869.25,589.9 862.79,594.6 865.26,587 858.79,582.3 866.78,582.3" fill="#808080" stroke="#808080" stroke-width="0.8" stroke-linejoin="miter"/>
<polygon points="882.63,522.59 885.1,530.19 893.09,530.19 886.63,534.88 889.1,542.49 882.63,537.79 876.17,542.49 878.63,534.88 872.17,530.19 880.16,530.19" fill="#808080" stroke="#808080" stroke-width="0.8" stroke-linejoin="miter"/>
<polygon points="895,647.26 897.47,654.86 905.46,654.86 899,659.56 901.47,667.16 895,662.46 888.54,667.16 891.01,659.56 884.54,654.86 892.53,654.86" fill="#808080" stroke="#808080" stroke-width="0.8" stroke-linejoin="miter"/>
<polygon points="906.27,489.5 908.74,497.1 916.73,497.1 910.26,501.8 912.73,509.4 906.27,504.7 899.8,509.4 902.27,501.8 895.81,497.1 903.8,497.1" fill="#808080" stroke="#808080" stroke-width="0.8" stroke-linejoin="miter"/>
<polygon points="916.63,485.95 919.1,493.55 927.09,493.55 920.62,498.25 923.09,505.85 916.63,501.15 910.16,505.85 912.63,498.25 906.17,493.55 914.16,493.55" fill="#808080" stroke="#808080" stroke-width="0.8" stroke-linejoin="miter"/>
<polygon points="926.38,311.15 928.85,318.75 936.84,318.75 930.38,323.45 932.85,331.05 926.38,326.35 919.92,331.05 922.39,323.45 915.92,318.75 923.91,318.75" fill="#808080" stroke="#808080" stroke-width="0.8" stroke-linejoin="miter"/>
<polygon points="933.12,450.31 935.59,457.91 943.58,457.91 937.12,462.61 939.59,470.21 933.12,465.51 926.66,470.21 929.13,462.61 922.66,457.91 930.65,457.91" fill="#808080" stroke="#808080" stroke-width="0.8" stroke-linejoin="miter"/>
</g>
<text transform="translate(138.54 716.3) scale(1.005 1)" class="tk" text-anchor="middle">-0.2</text>
<text transform="translate(239.12 716.3) scale(1.005 1)" class="tk" text-anchor="middle">-0.1</text>
<text transform="translate(339.7 716.3) scale(1.005 1)" class="tk" text-anchor="middle">0</text>
<text transform="translate(440.28 716.3) scale(1.005 1)" class="tk" text-anchor="middle">0.1</text>
<text transform="translate(540.86 716.3) scale(1.005 1)" class="tk" text-anchor="middle">0.2</text>
<text transform="translate(641.44 716.3) scale(1.005 1)" class="tk" text-anchor="middle">0.3</text>
<text transform="translate(742.02 716.3) scale(1.005 1)" class="tk" text-anchor="middle">0.4</text>
<text transform="translate(842.6 716.3) scale(1.005 1)" class="tk" text-anchor="middle">0.5</text>
<text transform="translate(943.18 716.3) scale(1.005 1)" class="tk" text-anchor="middle">0.6</text>
<text transform="translate(77.8 689.4) scale(1.005 1)" class="tk" text-anchor="end">0</text>
<text transform="translate(77.8 618.32) scale(1.005 1)" class="tk" text-anchor="end">0.5</text>
<text transform="translate(77.8 547.25) scale(1.005 1)" class="tk" text-anchor="end">1</text>
<text transform="translate(77.8 476.17) scale(1.005 1)" class="tk" text-anchor="end">1.5</text>
<text transform="translate(77.8 405.1) scale(1.005 1)" class="tk" text-anchor="end">2</text>
<text transform="translate(77.8 334.02) scale(1.005 1)" class="tk" text-anchor="end">2.5</text>
<text transform="translate(77.8 262.95) scale(1.005 1)" class="tk" text-anchor="end">3</text>
<text transform="translate(77.8 191.87) scale(1.005 1)" class="tk" text-anchor="end">3.5</text>
<text transform="translate(77.8 120.8) scale(1.005 1)" class="tk" text-anchor="end">4</text>
<text transform="translate(77.8 49.72) scale(1.005 1)" class="tk" text-anchor="end">4.5</text>
<rect x="248.4" y="54.5" width="525" height="84" fill="#ffffff" stroke="#262626" stroke-width="1.3"/>
<line x1="254.6" y1="70.1" x2="320.6" y2="70.1" stroke="#ff0000" stroke-width="3.5"/>
<circle cx="287.8" cy="70.1" r="6.3" fill="none" stroke="#ff0000" stroke-width="3.4"/>
<text transform="translate(326.3 78.7) scale(1.065 1)" class="lg">OBEDO</text>
<line x1="254.6" y1="96.65" x2="320.6" y2="96.65" stroke="#00ff00" stroke-width="3.5"/>
<rect x="282.35" y="91.7" width="10.9" height="9.9" fill="none" stroke="#00ff00" stroke-width="3.4"/>
<text transform="translate(326.3 105.25) scale(1.065 1)" class="lg">EDO</text>
<line x1="254.6" y1="123.2" x2="320.6" y2="123.2" stroke="#0000ff" stroke-width="3.5"/>
<polygon points="287.8,115 293.7,123.2 287.8,131.4 281.9,123.2" fill="none" stroke="#0000ff" stroke-width="3.4" stroke-linejoin="miter" stroke-miterlimit="10"/>
<text transform="translate(326.3 131.8) scale(1.065 1)" class="lg">ADHHO</text>
<line x1="431.1" y1="70.1" x2="497.1" y2="70.1" stroke="#00ffff" stroke-width="3.5"/>
<polygon points="464.3,62.3 471.95,74.8 456.65,74.8" fill="none" stroke="#00ffff" stroke-width="3.4" stroke-linejoin="miter" stroke-miterlimit="10"/>
<text transform="translate(502.8 78.7) scale(1.065 1)" class="lg">OBMPA</text>
<line x1="431.1" y1="96.65" x2="497.1" y2="96.65" stroke="#ff00ff" stroke-width="3.5"/>
<polygon points="464.3,104.45 471.95,91.95 456.65,91.95" fill="none" stroke="#ff00ff" stroke-width="3.4" stroke-linejoin="miter" stroke-miterlimit="10"/>
<text transform="translate(502.8 105.25) scale(1.065 1)" class="lg">MGTO</text>
<line x1="431.1" y1="123.2" x2="497.1" y2="123.2" stroke="#ffff00" stroke-width="3.5"/>
<polygon points="473.1,123.2 459.9,130.35 459.9,116.05" fill="none" stroke="#ffff00" stroke-width="3.4" stroke-linejoin="miter" stroke-miterlimit="10"/>
<text transform="translate(502.8 131.8) scale(1.065 1)" class="lg">IAOA</text>
<line x1="606.3" y1="70.1" x2="672.3" y2="70.1" stroke="#000000" stroke-width="3.5"/>
<polygon points="630.7,70.1 643.9,77.25 643.9,62.95" fill="none" stroke="#000000" stroke-width="3.4" stroke-linejoin="miter" stroke-miterlimit="10"/>
<text transform="translate(678 78.7) scale(1.065 1)" class="lg">HDE</text>
<line x1="606.3" y1="96.65" x2="672.3" y2="96.65" stroke="#808080" stroke-width="3.5"/>
<polygon points="639.5,85.65 641.97,93.25 649.96,93.25 643.5,97.95 645.97,105.55 639.5,100.85 633.03,105.55 635.5,97.95 629.04,93.25 637.03,93.25" fill="#808080" stroke="#808080" stroke-width="0.8" stroke-linejoin="miter"/>
<text transform="translate(678 105.25) scale(1.065 1)" class="lg">OBGBO</text>
<text x="89.8" y="38.8" class="mul">×</text>
<text transform="translate(115 33.7) scale(1.005 1)" class="tk">10<tspan class="ex" dy="-14.8" dx="0.6">-3</tspan></text>
<text transform="translate(516 754) scale(1.018 1)" class="ax" text-anchor="middle">PV Cell Voltage (V)</text>
<text transform="translate(26.2 359.3) rotate(-90) scale(0.955 1)" class="yl" text-anchor="middle">IAE (A)</text>
<text transform="translate(506.7 812.3)" class="cap" text-anchor="middle">(a)</text>
</g>
<g id="plot-b">
<rect x="1132.1" y="39.2" width="854.1" height="640.8" fill="none" stroke="#262626" stroke-width="1.4"/>
<path d="M1181.8 680v-8.5 M1181.8 39.2v8.5" stroke="#262626" stroke-width="1.4" fill="none"/>
<path d="M1282.4 680v-8.5 M1282.4 39.2v8.5" stroke="#262626" stroke-width="1.4" fill="none"/>
<path d="M1383 680v-8.5 M1383 39.2v8.5" stroke="#262626" stroke-width="1.4" fill="none"/>
<path d="M1483.6 680v-8.5 M1483.6 39.2v8.5" stroke="#262626" stroke-width="1.4" fill="none"/>
<path d="M1584.2 680v-8.5 M1584.2 39.2v8.5" stroke="#262626" stroke-width="1.4" fill="none"/>
<path d="M1684.8 680v-8.5 M1684.8 39.2v8.5" stroke="#262626" stroke-width="1.4" fill="none"/>
<path d="M1785.4 680v-8.5 M1785.4 39.2v8.5" stroke="#262626" stroke-width="1.4" fill="none"/>
<path d="M1886 680v-8.5 M1886 39.2v8.5" stroke="#262626" stroke-width="1.4" fill="none"/>
<path d="M1132.1 589h8.5 M1986.2 589h-8.5" stroke="#262626" stroke-width="1.4" fill="none"/>
<path d="M1132.1 497.3h8.5 M1986.2 497.3h-8.5" stroke="#262626" stroke-width="1.4" fill="none"/>
<path d="M1132.1 405.6h8.5 M1986.2 405.6h-8.5" stroke="#262626" stroke-width="1.4" fill="none"/>
<path d="M1132.1 313.9h8.5 M1986.2 313.9h-8.5" stroke="#262626" stroke-width="1.4" fill="none"/>
<path d="M1132.1 222.2h8.5 M1986.2 222.2h-8.5" stroke="#262626" stroke-width="1.4" fill="none"/>
<path d="M1132.1 130.5h8.5 M1986.2 130.5h-8.5" stroke="#262626" stroke-width="1.4" fill="none"/>
<g>
<polyline points="1176.07,589 1253.13,590.44 1323.85,591 1388.73,588.23 1447.99,586.88 1502.21,586.9 1551.81,589.48 1597.48,587.18 1639.03,588.23 1677.15,588.34 1711.86,591.18 1743.65,590.95 1772.62,592.77 1799.18,587.13 1822.92,589.91 1844.75,588.23 1864.27,585.43 1881.98,585.8 1897.97,591.61 1912.66,592.2 1926.04,595.03 1938.41,590.04 1949.68,565.43 1960.04,367.45 1969.8,626.75 1976.54,574.85" fill="none" stroke="#ff0000" stroke-width="3.5" stroke-linejoin="round" stroke-linecap="butt"/>
<circle cx="1176.07" cy="589" r="6.3" fill="none" stroke="#ff0000" stroke-width="3.4"/>
<circle cx="1253.13" cy="590.44" r="6.3" fill="none" stroke="#ff0000" stroke-width="3.4"/>
<circle cx="1323.85" cy="591" r="6.3" fill="none" stroke="#ff0000" stroke-width="3.4"/>
<circle cx="1388.73" cy="588.23" r="6.3" fill="none" stroke="#ff0000" stroke-width="3.4"/>
<circle cx="1447.99" cy="586.88" r="6.3" fill="none" stroke="#ff0000" stroke-width="3.4"/>
<circle cx="1502.21" cy="586.9" r="6.3" fill="none" stroke="#ff0000" stroke-width="3.4"/>
<circle cx="1551.81" cy="589.48" r="6.3" fill="none" stroke="#ff0000" stroke-width="3.4"/>
<circle cx="1597.48" cy="587.18" r="6.3" fill="none" stroke="#ff0000" stroke-width="3.4"/>
<circle cx="1639.03" cy="588.23" r="6.3" fill="none" stroke="#ff0000" stroke-width="3.4"/>
<circle cx="1677.15" cy="588.34" r="6.3" fill="none" stroke="#ff0000" stroke-width="3.4"/>
<circle cx="1711.86" cy="591.18" r="6.3" fill="none" stroke="#ff0000" stroke-width="3.4"/>
<circle cx="1743.65" cy="590.95" r="6.3" fill="none" stroke="#ff0000" stroke-width="3.4"/>
<circle cx="1772.62" cy="592.77" r="6.3" fill="none" stroke="#ff0000" stroke-width="3.4"/>
<circle cx="1799.18" cy="587.13" r="6.3" fill="none" stroke="#ff0000" stroke-width="3.4"/>
<circle cx="1822.92" cy="589.91" r="6.3" fill="none" stroke="#ff0000" stroke-width="3.4"/>
<circle cx="1844.75" cy="588.23" r="6.3" fill="none" stroke="#ff0000" stroke-width="3.4"/>
<circle cx="1864.27" cy="585.43" r="6.3" fill="none" stroke="#ff0000" stroke-width="3.4"/>
<circle cx="1881.98" cy="585.8" r="6.3" fill="none" stroke="#ff0000" stroke-width="3.4"/>
<circle cx="1897.97" cy="591.61" r="6.3" fill="none" stroke="#ff0000" stroke-width="3.4"/>
<circle cx="1912.66" cy="592.2" r="6.3" fill="none" stroke="#ff0000" stroke-width="3.4"/>
<circle cx="1926.04" cy="595.03" r="6.3" fill="none" stroke="#ff0000" stroke-width="3.4"/>
<circle cx="1938.41" cy="590.04" r="6.3" fill="none" stroke="#ff0000" stroke-width="3.4"/>
<circle cx="1949.68" cy="565.43" r="6.3" fill="none" stroke="#ff0000" stroke-width="3.4"/>
<circle cx="1960.04" cy="367.45" r="6.3" fill="none" stroke="#ff0000" stroke-width="3.4"/>
<circle cx="1969.8" cy="626.75" r="6.3" fill="none" stroke="#ff0000" stroke-width="3.4"/>
<circle cx="1976.54" cy="574.85" r="6.3" fill="none" stroke="#ff0000" stroke-width="3.4"/>
</g>
<g>
<polyline points="1176.07,597.86 1253.13,597.92 1323.85,597.14 1388.73,593.1 1447.99,590.6 1502.21,589.59 1551.81,591.22 1597.48,589.99 1639.03,589.9 1677.15,587.24 1711.86,588.97 1743.65,587.39 1772.62,587.63 1799.18,580.39 1822.92,581.82 1844.75,579.42 1864.27,577.08 1881.98,579.49 1897.97,588.91 1912.66,595.83 1926.04,607.22 1938.41,615.1 1949.68,616.31 1960.04,59.89 1969.8,634.36 1976.54,602.75" fill="none" stroke="#00ff00" stroke-width="3.5" stroke-linejoin="round" stroke-linecap="butt"/>
<rect x="1170.62" y="592.91" width="10.9" height="9.9" fill="none" stroke="#00ff00" stroke-width="3.4"/>
<rect x="1247.68" y="592.97" width="10.9" height="9.9" fill="none" stroke="#00ff00" stroke-width="3.4"/>
<rect x="1318.4" y="592.19" width="10.9" height="9.9" fill="none" stroke="#00ff00" stroke-width="3.4"/>
<rect x="1383.28" y="588.15" width="10.9" height="9.9" fill="none" stroke="#00ff00" stroke-width="3.4"/>
<rect x="1442.54" y="585.65" width="10.9" height="9.9" fill="none" stroke="#00ff00" stroke-width="3.4"/>
<rect x="1496.76" y="584.64" width="10.9" height="9.9" fill="none" stroke="#00ff00" stroke-width="3.4"/>
<rect x="1546.36" y="586.27" width="10.9" height="9.9" fill="none" stroke="#00ff00" stroke-width="3.4"/>
<rect x="1592.03" y="585.04" width="10.9" height="9.9" fill="none" stroke="#00ff00" stroke-width="3.4"/>
<rect x="1633.58" y="584.95" width="10.9" height="9.9" fill="none" stroke="#00ff00" stroke-width="3.4"/>
<rect x="1671.7" y="582.29" width="10.9" height="9.9" fill="none" stroke="#00ff00" stroke-width="3.4"/>
<rect x="1706.41" y="584.02" width="10.9" height="9.9" fill="none" stroke="#00ff00" stroke-width="3.4"/>
<rect x="1738.2" y="582.44" width="10.9" height="9.9" fill="none" stroke="#00ff00" stroke-width="3.4"/>
<rect x="1767.17" y="582.68" width="10.9" height="9.9" fill="none" stroke="#00ff00" stroke-width="3.4"/>
<rect x="1793.73" y="575.44" width="10.9" height="9.9" fill="none" stroke="#00ff00" stroke-width="3.4"/>
<rect x="1817.47" y="576.87" width="10.9" height="9.9" fill="none" stroke="#00ff00" stroke-width="3.4"/>
<rect x="1839.3" y="574.47" width="10.9" height="9.9" fill="none" stroke="#00ff00" stroke-width="3.4"/>
<rect x="1858.82" y="572.13" width="10.9" height="9.9" fill="none" stroke="#00ff00" stroke-width="3.4"/>
<rect x="1876.53" y="574.54" width="10.9" height="9.9" fill="none" stroke="#00ff00" stroke-width="3.4"/>
<rect x="1892.52" y="583.96" width="10.9" height="9.9" fill="none" stroke="#00ff00" stroke-width="3.4"/>
<rect x="1907.21" y="590.88" width="10.9" height="9.9" fill="none" stroke="#00ff00" stroke-width="3.4"/>
<rect x="1920.59" y="602.27" width="10.9" height="9.9" fill="none" stroke="#00ff00" stroke-width="3.4"/>
<rect x="1932.96" y="610.15" width="10.9" height="9.9" fill="none" stroke="#00ff00" stroke-width="3.4"/>
<rect x="1944.23" y="611.36" width="10.9" height="9.9" fill="none" stroke="#00ff00" stroke-width="3.4"/>
<rect x="1954.59" y="54.94" width="10.9" height="9.9" fill="none" stroke="#00ff00" stroke-width="3.4"/>
<rect x="1964.35" y="629.41" width="10.9" height="9.9" fill="none" stroke="#00ff00" stroke-width="3.4"/>
<rect x="1971.09" y="597.8" width="10.9" height="9.9" fill="none" stroke="#00ff00" stroke-width="3.4"/>
</g>
<g>
<polyline points="1176.07,589.46 1253.13,590.79 1323.85,591.16 1388.73,588.18 1447.99,586.68 1502.21,586.58 1551.81,589.01 1597.48,586.7 1639.03,587.69 1677.15,587.9 1711.86,590.86 1743.65,590.85 1772.62,592.9 1799.18,587.46 1822.92,590.49 1844.75,588.83 1864.27,585.9 1881.98,586.15 1897.97,591.73 1912.66,592.08 1926.04,594.6 1938.41,589.22 1949.68,564.05 1960.04,372.22 1969.8,626.28 1976.54,574.29" fill="none" stroke="#0000ff" stroke-width="3.5" stroke-linejoin="round" stroke-linecap="butt"/>
<polygon points="1176.07,581.26 1181.97,589.46 1176.07,597.66 1170.17,589.46" fill="none" stroke="#0000ff" stroke-width="3.4" stroke-linejoin="miter" stroke-miterlimit="10"/>
<polygon points="1253.13,582.59 1259.03,590.79 1253.13,598.99 1247.23,590.79" fill="none" stroke="#0000ff" stroke-width="3.4" stroke-linejoin="miter" stroke-miterlimit="10"/>
<polygon points="1323.85,582.96 1329.75,591.16 1323.85,599.36 1317.95,591.16" fill="none" stroke="#0000ff" stroke-width="3.4" stroke-linejoin="miter" stroke-miterlimit="10"/>
<polygon points="1388.73,579.98 1394.63,588.18 1388.73,596.38 1382.83,588.18" fill="none" stroke="#0000ff" stroke-width="3.4" stroke-linejoin="miter" stroke-miterlimit="10"/>
<polygon points="1447.99,578.48 1453.89,586.68 1447.99,594.88 1442.09,586.68" fill="none" stroke="#0000ff" stroke-width="3.4" stroke-linejoin="miter" stroke-miterlimit="10"/>
<polygon points="1502.21,578.38 1508.11,586.58 1502.21,594.78 1496.31,586.58" fill="none" stroke="#0000ff" stroke-width="3.4" stroke-linejoin="miter" stroke-miterlimit="10"/>
<polygon points="1551.81,580.81 1557.71,589.01 1551.81,597.21 1545.91,589.01" fill="none" stroke="#0000ff" stroke-width="3.4" stroke-linejoin="miter" stroke-miterlimit="10"/>
<polygon points="1597.48,578.5 1603.38,586.7 1597.48,594.9 1591.58,586.7" fill="none" stroke="#0000ff" stroke-width="3.4" stroke-linejoin="miter" stroke-miterlimit="10"/>
<polygon points="1639.03,579.49 1644.93,587.69 1639.03,595.89 1633.13,587.69" fill="none" stroke="#0000ff" stroke-width="3.4" stroke-linejoin="miter" stroke-miterlimit="10"/>
<polygon points="1677.15,579.7 1683.05,587.9 1677.15,596.1 1671.25,587.9" fill="none" stroke="#0000ff" stroke-width="3.4" stroke-linejoin="miter" stroke-miterlimit="10"/>
<polygon points="1711.86,582.66 1717.76,590.86 1711.86,599.06 1705.96,590.86" fill="none" stroke="#0000ff" stroke-width="3.4" stroke-linejoin="miter" stroke-miterlimit="10"/>
<polygon points="1743.65,582.65 1749.55,590.85 1743.65,599.05 1737.75,590.85" fill="none" stroke="#0000ff" stroke-width="3.4" stroke-linejoin="miter" stroke-miterlimit="10"/>
<polygon points="1772.62,584.7 1778.52,592.9 1772.62,601.1 1766.72,592.9" fill="none" stroke="#0000ff" stroke-width="3.4" stroke-linejoin="miter" stroke-miterlimit="10"/>
<polygon points="1799.18,579.26 1805.08,587.46 1799.18,595.66 1793.28,587.46" fill="none" stroke="#0000ff" stroke-width="3.4" stroke-linejoin="miter" stroke-miterlimit="10"/>
<polygon points="1822.92,582.29 1828.82,590.49 1822.92,598.69 1817.02,590.49" fill="none" stroke="#0000ff" stroke-width="3.4" stroke-linejoin="miter" stroke-miterlimit="10"/>
<polygon points="1844.75,580.63 1850.65,588.83 1844.75,597.03 1838.85,588.83" fill="none" stroke="#0000ff" stroke-width="3.4" stroke-linejoin="miter" stroke-miterlimit="10"/>
<polygon points="1864.27,577.7 1870.17,585.9 1864.27,594.1 1858.37,585.9" fill="none" stroke="#0000ff" stroke-width="3.4" stroke-linejoin="miter" stroke-miterlimit="10"/>
<polygon points="1881.98,577.95 1887.88,586.15 1881.98,594.35 1876.08,586.15" fill="none" stroke="#0000ff" stroke-width="3.4" stroke-linejoin="miter" stroke-miterlimit="10"/>
<polygon points="1897.97,583.53 1903.87,591.73 1897.97,599.93 1892.07,591.73" fill="none" stroke="#0000ff" stroke-width="3.4" stroke-linejoin="miter" stroke-miterlimit="10"/>
<polygon points="1912.66,583.88 1918.56,592.08 1912.66,600.28 1906.76,592.08" fill="none" stroke="#0000ff" stroke-width="3.4" stroke-linejoin="miter" stroke-miterlimit="10"/>
<polygon points="1926.04,586.4 1931.94,594.6 1926.04,602.8 1920.14,594.6" fill="none" stroke="#0000ff" stroke-width="3.4" stroke-linejoin="miter" stroke-miterlimit="10"/>
<polygon points="1938.41,581.02 1944.31,589.22 1938.41,597.42 1932.51,589.22" fill="none" stroke="#0000ff" stroke-width="3.4" stroke-linejoin="miter" stroke-miterlimit="10"/>
<polygon points="1949.68,555.85 1955.58,564.05 1949.68,572.25 1943.78,564.05" fill="none" stroke="#0000ff" stroke-width="3.4" stroke-linejoin="miter" stroke-miterlimit="10"/>
<polygon points="1960.04,364.02 1965.94,372.22 1960.04,380.42 1954.14,372.22" fill="none" stroke="#0000ff" stroke-width="3.4" stroke-linejoin="miter" stroke-miterlimit="10"/>
<polygon points="1969.8,618.08 1975.7,626.28 1969.8,634.48 1963.9,626.28" fill="none" stroke="#0000ff" stroke-width="3.4" stroke-linejoin="miter" stroke-miterlimit="10"/>
<polygon points="1976.54,566.09 1982.44,574.29 1976.54,582.49 1970.64,574.29" fill="none" stroke="#0000ff" stroke-width="3.4" stroke-linejoin="miter" stroke-miterlimit="10"/>
</g>
<g>
<polyline points="1176.07,585.36 1253.13,587.89 1323.85,588.64 1388.73,587.42 1447.99,586.88 1502.21,587.6 1551.81,590.82 1597.48,589.11 1639.03,590.66 1677.15,591.13 1711.86,594.14 1743.65,593.69 1772.62,594.82 1799.18,589.93 1822.92,589.38 1844.75,586.12 1864.27,582.04 1881.98,581.83 1897.97,588.02 1912.66,587.7 1926.04,596.24 1938.41,596.84 1949.68,584.27 1960.04,229.17 1969.8,626.23 1976.54,584.9" fill="none" stroke="#00ffff" stroke-width="3.5" stroke-linejoin="round" stroke-linecap="butt"/>
<polygon points="1176.07,577.56 1183.72,590.06 1168.42,590.06" fill="none" stroke="#00ffff" stroke-width="3.4" stroke-linejoin="miter" stroke-miterlimit="10"/>
<polygon points="1253.13,580.09 1260.78,592.59 1245.48,592.59" fill="none" stroke="#00ffff" stroke-width="3.4" stroke-linejoin="miter" stroke-miterlimit="10"/>
<polygon points="1323.85,580.84 1331.5,593.34 1316.2,593.34" fill="none" stroke="#00ffff" stroke-width="3.4" stroke-linejoin="miter" stroke-miterlimit="10"/>
<polygon points="1388.73,579.62 1396.38,592.12 1381.08,592.12" fill="none" stroke="#00ffff" stroke-width="3.4" stroke-linejoin="miter" stroke-miterlimit="10"/>
<polygon points="1447.99,579.08 1455.64,591.58 1440.34,591.58" fill="none" stroke="#00ffff" stroke-width="3.4" stroke-linejoin="miter" stroke-miterlimit="10"/>
<polygon points="1502.21,579.8 1509.86,592.3 1494.56,592.3" fill="none" stroke="#00ffff" stroke-width="3.4" stroke-linejoin="miter" stroke-miterlimit="10"/>
<polygon points="1551.81,583.02 1559.46,595.52 1544.16,595.52" fill="none" stroke="#00ffff" stroke-width="3.4" stroke-linejoin="miter" stroke-miterlimit="10"/>
<polygon points="1597.48,581.31 1605.13,593.81 1589.83,593.81" fill="none" stroke="#00ffff" stroke-width="3.4" stroke-linejoin="miter" stroke-miterlimit="10"/>
<polygon points="1639.03,582.86 1646.68,595.36 1631.38,595.36" fill="none" stroke="#00ffff" stroke-width="3.4" stroke-linejoin="miter" stroke-miterlimit="10"/>
<polygon points="1677.15,583.33 1684.8,595.83 1669.5,595.83" fill="none" stroke="#00ffff" stroke-width="3.4" stroke-linejoin="miter" stroke-miterlimit="10"/>
<polygon points="1711.86,586.34 1719.51,598.84 1704.21,598.84" fill="none" stroke="#00ffff" stroke-width="3.4" stroke-linejoin="miter" stroke-miterlimit="10"/>
<polygon points="1743.65,585.89 1751.3,598.39 1736,598.39" fill="none" stroke="#00ffff" stroke-width="3.4" stroke-linejoin="miter" stroke-miterlimit="10"/>
<polygon points="1772.62,587.02 1780.27,599.52 1764.97,599.52" fill="none" stroke="#00ffff" stroke-width="3.4" stroke-linejoin="miter" stroke-miterlimit="10"/>
<polygon points="1799.18,582.13 1806.83,594.63 1791.53,594.63" fill="none" stroke="#00ffff" stroke-width="3.4" stroke-linejoin="miter" stroke-miterlimit="10"/>
<polygon points="1822.92,581.58 1830.57,594.08 1815.27,594.08" fill="none" stroke="#00ffff" stroke-width="3.4" stroke-linejoin="miter" stroke-miterlimit="10"/>
<polygon points="1844.75,578.32 1852.4,590.82 1837.1,590.82" fill="none" stroke="#00ffff" stroke-width="3.4" stroke-linejoin="miter" stroke-miterlimit="10"/>
<polygon points="1864.27,574.24 1871.92,586.74 1856.62,586.74" fill="none" stroke="#00ffff" stroke-width="3.4" stroke-linejoin="miter" stroke-miterlimit="10"/>
<polygon points="1881.98,574.03 1889.63,586.53 1874.33,586.53" fill="none" stroke="#00ffff" stroke-width="3.4" stroke-linejoin="miter" stroke-miterlimit="10"/>
<polygon points="1897.97,580.22 1905.62,592.72 1890.32,592.72" fill="none" stroke="#00ffff" stroke-width="3.4" stroke-linejoin="miter" stroke-miterlimit="10"/>
<polygon points="1912.66,579.9 1920.31,592.4 1905.01,592.4" fill="none" stroke="#00ffff" stroke-width="3.4" stroke-linejoin="miter" stroke-miterlimit="10"/>
<polygon points="1926.04,588.44 1933.69,600.94 1918.39,600.94" fill="none" stroke="#00ffff" stroke-width="3.4" stroke-linejoin="miter" stroke-miterlimit="10"/>
<polygon points="1938.41,589.04 1946.06,601.54 1930.76,601.54" fill="none" stroke="#00ffff" stroke-width="3.4" stroke-linejoin="miter" stroke-miterlimit="10"/>
<polygon points="1949.68,576.47 1957.33,588.97 1942.03,588.97" fill="none" stroke="#00ffff" stroke-width="3.4" stroke-linejoin="miter" stroke-miterlimit="10"/>
<polygon points="1960.04,221.37 1967.69,233.87 1952.39,233.87" fill="none" stroke="#00ffff" stroke-width="3.4" stroke-linejoin="miter" stroke-miterlimit="10"/>
<polygon points="1969.8,618.43 1977.45,630.93 1962.15,630.93" fill="none" stroke="#00ffff" stroke-width="3.4" stroke-linejoin="miter" stroke-miterlimit="10"/>
<polygon points="1976.54,577.1 1984.19,589.6 1968.89,589.6" fill="none" stroke="#00ffff" stroke-width="3.4" stroke-linejoin="miter" stroke-miterlimit="10"/>
</g>
<g>
<polyline points="1176.07,589 1253.13,590.44 1323.85,591 1388.73,588.23 1447.99,586.86 1502.21,586.89 1551.81,589.48 1597.48,587.18 1639.03,588.23 1677.15,588.34 1711.86,591.19 1743.65,590.95 1772.62,592.77 1799.18,587.13 1822.92,589.91 1844.75,588.23 1864.27,585.43 1881.98,585.77 1897.97,591.61 1912.66,592.23 1926.04,595.03 1938.41,590.06 1949.68,565.08 1960.04,366.35 1969.8,626.75 1976.54,574.74" fill="none" stroke="#ff00ff" stroke-width="3.5" stroke-linejoin="round" stroke-linecap="butt"/>
<polygon points="1176.07,596.8 1183.72,584.3 1168.42,584.3" fill="none" stroke="#ff00ff" stroke-width="3.4" stroke-linejoin="miter" stroke-miterlimit="10"/>
<polygon points="1253.13,598.24 1260.78,585.74 1245.48,585.74" fill="none" stroke="#ff00ff" stroke-width="3.4" stroke-linejoin="miter" stroke-miterlimit="10"/>
<polygon points="1323.85,598.8 1331.5,586.3 1316.2,586.3" fill="none" stroke="#ff00ff" stroke-width="3.4" stroke-linejoin="miter" stroke-miterlimit="10"/>
<polygon points="1388.73,596.03 1396.38,583.53 1381.08,583.53" fill="none" stroke="#ff00ff" stroke-width="3.4" stroke-linejoin="miter" stroke-miterlimit="10"/>
<polygon points="1447.99,594.66 1455.64,582.16 1440.34,582.16" fill="none" stroke="#ff00ff" stroke-width="3.4" stroke-linejoin="miter" stroke-miterlimit="10"/>
<polygon points="1502.21,594.69 1509.86,582.19 1494.56,582.19" fill="none" stroke="#ff00ff" stroke-width="3.4" stroke-linejoin="miter" stroke-miterlimit="10"/>
<polygon points="1551.81,597.28 1559.46,584.78 1544.16,584.78" fill="none" stroke="#ff00ff" stroke-width="3.4" stroke-linejoin="miter" stroke-miterlimit="10"/>
<polygon points="1597.48,594.98 1605.13,582.48 1589.83,582.48" fill="none" stroke="#ff00ff" stroke-width="3.4" stroke-linejoin="miter" stroke-miterlimit="10"/>
<polygon points="1639.03,596.03 1646.68,583.53 1631.38,583.53" fill="none" stroke="#ff00ff" stroke-width="3.4" stroke-linejoin="miter" stroke-miterlimit="10"/>
<polygon points="1677.15,596.14 1684.8,583.64 1669.5,583.64" fill="none" stroke="#ff00ff" stroke-width="3.4" stroke-linejoin="miter" stroke-miterlimit="10"/>
<polygon points="1711.86,598.99 1719.51,586.49 1704.21,586.49" fill="none" stroke="#ff00ff" stroke-width="3.4" stroke-linejoin="miter" stroke-miterlimit="10"/>
<polygon points="1743.65,598.75 1751.3,586.25 1736,586.25" fill="none" stroke="#ff00ff" stroke-width="3.4" stroke-linejoin="miter" stroke-miterlimit="10"/>
<polygon points="1772.62,600.57 1780.27,588.07 1764.97,588.07" fill="none" stroke="#ff00ff" stroke-width="3.4" stroke-linejoin="miter" stroke-miterlimit="10"/>
<polygon points="1799.18,594.93 1806.83,582.43 1791.53,582.43" fill="none" stroke="#ff00ff" stroke-width="3.4" stroke-linejoin="miter" stroke-miterlimit="10"/>
<polygon points="1822.92,597.71 1830.57,585.21 1815.27,585.21" fill="none" stroke="#ff00ff" stroke-width="3.4" stroke-linejoin="miter" stroke-miterlimit="10"/>
<polygon points="1844.75,596.03 1852.4,583.53 1837.1,583.53" fill="none" stroke="#ff00ff" stroke-width="3.4" stroke-linejoin="miter" stroke-miterlimit="10"/>
<polygon points="1864.27,593.23 1871.92,580.73 1856.62,580.73" fill="none" stroke="#ff00ff" stroke-width="3.4" stroke-linejoin="miter" stroke-miterlimit="10"/>
<polygon points="1881.98,593.57 1889.63,581.07 1874.33,581.07" fill="none" stroke="#ff00ff" stroke-width="3.4" stroke-linejoin="miter" stroke-miterlimit="10"/>
<polygon points="1897.97,599.41 1905.62,586.91 1890.32,586.91" fill="none" stroke="#ff00ff" stroke-width="3.4" stroke-linejoin="miter" stroke-miterlimit="10"/>
<polygon points="1912.66,600.03 1920.31,587.53 1905.01,587.53" fill="none" stroke="#ff00ff" stroke-width="3.4" stroke-linejoin="miter" stroke-miterlimit="10"/>
<polygon points="1926.04,602.83 1933.69,590.33 1918.39,590.33" fill="none" stroke="#ff00ff" stroke-width="3.4" stroke-linejoin="miter" stroke-miterlimit="10"/>
<polygon points="1938.41,597.86 1946.06,585.36 1930.76,585.36" fill="none" stroke="#ff00ff" stroke-width="3.4" stroke-linejoin="miter" stroke-miterlimit="10"/>
<polygon points="1949.68,572.88 1957.33,560.38 1942.03,560.38" fill="none" stroke="#ff00ff" stroke-width="3.4" stroke-linejoin="miter" stroke-miterlimit="10"/>
<polygon points="1960.04,374.15 1967.69,361.65 1952.39,361.65" fill="none" stroke="#ff00ff" stroke-width="3.4" stroke-linejoin="miter" stroke-miterlimit="10"/>
<polygon points="1969.8,634.55 1977.45,622.05 1962.15,622.05" fill="none" stroke="#ff00ff" stroke-width="3.4" stroke-linejoin="miter" stroke-miterlimit="10"/>
<polygon points="1976.54,582.54 1984.19,570.04 1968.89,570.04" fill="none" stroke="#ff00ff" stroke-width="3.4" stroke-linejoin="miter" stroke-miterlimit="10"/>
</g>
<g>
<polyline points="1176.07,589.06 1253.13,590.77 1323.85,591.64 1388.73,588.88 1447.99,588.04 1502.21,588.31 1551.81,591.09 1597.48,589.01 1639.03,590.18 1677.15,590.25 1711.86,592.87 1743.65,592.06 1772.62,592.85 1799.18,585.89 1822.92,587.19 1844.75,584.15 1864.27,580.77 1881.98,581.7 1897.97,589.48 1912.66,594.01 1926.04,602.69 1938.41,606.52 1949.68,598.11 1960.04,231.19 1969.8,644.24 1976.54,606.52" fill="none" stroke="#ffff00" stroke-width="3.5" stroke-linejoin="round" stroke-linecap="butt"/>
<polygon points="1184.87,589.06 1171.67,596.21 1171.67,581.91" fill="none" stroke="#ffff00" stroke-width="3.4" stroke-linejoin="miter" stroke-miterlimit="10"/>
<polygon points="1261.93,590.77 1248.73,597.92 1248.73,583.62" fill="none" stroke="#ffff00" stroke-width="3.4" stroke-linejoin="miter" stroke-miterlimit="10"/>
<polygon points="1332.65,591.64 1319.45,598.79 1319.45,584.49" fill="none" stroke="#ffff00" stroke-width="3.4" stroke-linejoin="miter" stroke-miterlimit="10"/>
<polygon points="1397.53,588.88 1384.33,596.03 1384.33,581.73" fill="none" stroke="#ffff00" stroke-width="3.4" stroke-linejoin="miter" stroke-miterlimit="10"/>
<polygon points="1456.79,588.04 1443.59,595.19 1443.59,580.89" fill="none" stroke="#ffff00" stroke-width="3.4" stroke-linejoin="miter" stroke-miterlimit="10"/>
<polygon points="1511.01,588.31 1497.81,595.46 1497.81,581.16" fill="none" stroke="#ffff00" stroke-width="3.4" stroke-linejoin="miter" stroke-miterlimit="10"/>
<polygon points="1560.61,591.09 1547.41,598.24 1547.41,583.94" fill="none" stroke="#ffff00" stroke-width="3.4" stroke-linejoin="miter" stroke-miterlimit="10"/>
<polygon points="1606.28,589.01 1593.08,596.16 1593.08,581.86" fill="none" stroke="#ffff00" stroke-width="3.4" stroke-linejoin="miter" stroke-miterlimit="10"/>
<polygon points="1647.83,590.18 1634.63,597.33 1634.63,583.03" fill="none" stroke="#ffff00" stroke-width="3.4" stroke-linejoin="miter" stroke-miterlimit="10"/>
<polygon points="1685.95,590.25 1672.75,597.4 1672.75,583.1" fill="none" stroke="#ffff00" stroke-width="3.4" stroke-linejoin="miter" stroke-miterlimit="10"/>
<polygon points="1720.66,592.87 1707.46,600.02 1707.46,585.72" fill="none" stroke="#ffff00" stroke-width="3.4" stroke-linejoin="miter" stroke-miterlimit="10"/>
<polygon points="1752.45,592.06 1739.25,599.21 1739.25,584.91" fill="none" stroke="#ffff00" stroke-width="3.4" stroke-linejoin="miter" stroke-miterlimit="10"/>
<polygon points="1781.42,592.85 1768.22,600 1768.22,585.7" fill="none" stroke="#ffff00" stroke-width="3.4" stroke-linejoin="miter" stroke-miterlimit="10"/>
<polygon points="1807.98,585.89 1794.78,593.04 1794.78,578.74" fill="none" stroke="#ffff00" stroke-width="3.4" stroke-linejoin="miter" stroke-miterlimit="10"/>
<polygon points="1831.72,587.19 1818.52,594.34 1818.52,580.04" fill="none" stroke="#ffff00" stroke-width="3.4" stroke-linejoin="miter" stroke-miterlimit="10"/>
<polygon points="1853.55,584.15 1840.35,591.3 1840.35,577" fill="none" stroke="#ffff00" stroke-width="3.4" stroke-linejoin="miter" stroke-miterlimit="10"/>
<polygon points="1873.07,580.77 1859.87,587.92 1859.87,573.62" fill="none" stroke="#ffff00" stroke-width="3.4" stroke-linejoin="miter" stroke-miterlimit="10"/>
<polygon points="1890.78,581.7 1877.58,588.85 1877.58,574.55" fill="none" stroke="#ffff00" stroke-width="3.4" stroke-linejoin="miter" stroke-miterlimit="10"/>
<polygon points="1906.77,589.48 1893.57,596.63 1893.57,582.33" fill="none" stroke="#ffff00" stroke-width="3.4" stroke-linejoin="miter" stroke-miterlimit="10"/>
<polygon points="1921.46,594.01 1908.26,601.16 1908.26,586.86" fill="none" stroke="#ffff00" stroke-width="3.4" stroke-linejoin="miter" stroke-miterlimit="10"/>
<polygon points="1934.84,602.69 1921.64,609.84 1921.64,595.54" fill="none" stroke="#ffff00" stroke-width="3.4" stroke-linejoin="miter" stroke-miterlimit="10"/>
<polygon points="1947.21,606.52 1934.01,613.67 1934.01,599.37" fill="none" stroke="#ffff00" stroke-width="3.4" stroke-linejoin="miter" stroke-miterlimit="10"/>
<polygon points="1958.48,598.11 1945.28,605.26 1945.28,590.96" fill="none" stroke="#ffff00" stroke-width="3.4" stroke-linejoin="miter" stroke-miterlimit="10"/>
<polygon points="1968.84,231.19 1955.64,238.34 1955.64,224.04" fill="none" stroke="#ffff00" stroke-width="3.4" stroke-linejoin="miter" stroke-miterlimit="10"/>
<polygon points="1978.6,644.24 1965.4,651.39 1965.4,637.09" fill="none" stroke="#ffff00" stroke-width="3.4" stroke-linejoin="miter" stroke-miterlimit="10"/>
<polygon points="1985.34,606.52 1972.14,613.67 1972.14,599.37" fill="none" stroke="#ffff00" stroke-width="3.4" stroke-linejoin="miter" stroke-miterlimit="10"/>
</g>
<g>
<polyline points="1176.07,589.16 1253.13,590.56 1323.85,591.06 1388.73,588.2 1447.99,586.77 1502.21,586.75 1551.81,589.24 1597.48,586.97 1639.03,588.05 1677.15,588.27 1711.86,591.23 1743.65,591.11 1772.62,593.01 1799.18,587.39 1822.92,590.13 1844.75,588.35 1864.27,585.31 1881.98,585.45 1897.97,591.26 1912.66,591.96 1926.04,595.29 1938.41,591.01 1949.68,568.3 1960.04,346.55 1969.8,626.75 1976.54,576.57" fill="none" stroke="#000000" stroke-width="3.5" stroke-linejoin="round" stroke-linecap="butt"/>
<polygon points="1167.27,589.16 1180.47,596.31 1180.47,582.01" fill="none" stroke="#000000" stroke-width="3.4" stroke-linejoin="miter" stroke-miterlimit="10"/>
<polygon points="1244.33,590.56 1257.53,597.71 1257.53,583.41" fill="none" stroke="#000000" stroke-width="3.4" stroke-linejoin="miter" stroke-miterlimit="10"/>
<polygon points="1315.05,591.06 1328.25,598.21 1328.25,583.91" fill="none" stroke="#000000" stroke-width="3.4" stroke-linejoin="miter" stroke-miterlimit="10"/>
<polygon points="1379.93,588.2 1393.13,595.35 1393.13,581.05" fill="none" stroke="#000000" stroke-width="3.4" stroke-linejoin="miter" stroke-miterlimit="10"/>
<polygon points="1439.19,586.77 1452.39,593.92 1452.39,579.62" fill="none" stroke="#000000" stroke-width="3.4" stroke-linejoin="miter" stroke-miterlimit="10"/>
<polygon points="1493.41,586.75 1506.61,593.9 1506.61,579.6" fill="none" stroke="#000000" stroke-width="3.4" stroke-linejoin="miter" stroke-miterlimit="10"/>
<polygon points="1543.01,589.24 1556.21,596.39 1556.21,582.09" fill="none" stroke="#000000" stroke-width="3.4" stroke-linejoin="miter" stroke-miterlimit="10"/>
<polygon points="1588.68,586.97 1601.88,594.12 1601.88,579.82" fill="none" stroke="#000000" stroke-width="3.4" stroke-linejoin="miter" stroke-miterlimit="10"/>
<polygon points="1630.23,588.05 1643.43,595.2 1643.43,580.9" fill="none" stroke="#000000" stroke-width="3.4" stroke-linejoin="miter" stroke-miterlimit="10"/>
<polygon points="1668.35,588.27 1681.55,595.42 1681.55,581.12" fill="none" stroke="#000000" stroke-width="3.4" stroke-linejoin="miter" stroke-miterlimit="10"/>
<polygon points="1703.06,591.23 1716.26,598.38 1716.26,584.08" fill="none" stroke="#000000" stroke-width="3.4" stroke-linejoin="miter" stroke-miterlimit="10"/>
<polygon points="1734.85,591.11 1748.05,598.26 1748.05,583.96" fill="none" stroke="#000000" stroke-width="3.4" stroke-linejoin="miter" stroke-miterlimit="10"/>
<polygon points="1763.82,593.01 1777.02,600.16 1777.02,585.86" fill="none" stroke="#000000" stroke-width="3.4" stroke-linejoin="miter" stroke-miterlimit="10"/>
<polygon points="1790.38,587.39 1803.58,594.54 1803.58,580.24" fill="none" stroke="#000000" stroke-width="3.4" stroke-linejoin="miter" stroke-miterlimit="10"/>
<polygon points="1814.12,590.13 1827.32,597.28 1827.32,582.98" fill="none" stroke="#000000" stroke-width="3.4" stroke-linejoin="miter" stroke-miterlimit="10"/>
<polygon points="1835.95,588.35 1849.15,595.5 1849.15,581.2" fill="none" stroke="#000000" stroke-width="3.4" stroke-linejoin="miter" stroke-miterlimit="10"/>
<polygon points="1855.47,585.31 1868.67,592.46 1868.67,578.16" fill="none" stroke="#000000" stroke-width="3.4" stroke-linejoin="miter" stroke-miterlimit="10"/>
<polygon points="1873.18,585.45 1886.38,592.6 1886.38,578.3" fill="none" stroke="#000000" stroke-width="3.4" stroke-linejoin="miter" stroke-miterlimit="10"/>
<polygon points="1889.17,591.26 1902.37,598.41 1902.37,584.11" fill="none" stroke="#000000" stroke-width="3.4" stroke-linejoin="miter" stroke-miterlimit="10"/>
<polygon points="1903.86,591.96 1917.06,599.11 1917.06,584.81" fill="none" stroke="#000000" stroke-width="3.4" stroke-linejoin="miter" stroke-miterlimit="10"/>
<polygon points="1917.24,595.29 1930.44,602.44 1930.44,588.14" fill="none" stroke="#000000" stroke-width="3.4" stroke-linejoin="miter" stroke-miterlimit="10"/>
<polygon points="1929.61,591.01 1942.81,598.16 1942.81,583.86" fill="none" stroke="#000000" stroke-width="3.4" stroke-linejoin="miter" stroke-miterlimit="10"/>
<polygon points="1940.88,568.3 1954.08,575.45 1954.08,561.15" fill="none" stroke="#000000" stroke-width="3.4" stroke-linejoin="miter" stroke-miterlimit="10"/>
<polygon points="1951.24,346.55 1964.44,353.7 1964.44,339.4" fill="none" stroke="#000000" stroke-width="3.4" stroke-linejoin="miter" stroke-miterlimit="10"/>
<polygon points="1961,626.75 1974.2,633.9 1974.2,619.6" fill="none" stroke="#000000" stroke-width="3.4" stroke-linejoin="miter" stroke-miterlimit="10"/>
<polygon points="1967.74,576.57 1980.94,583.72 1980.94,569.42" fill="none" stroke="#000000" stroke-width="3.4" stroke-linejoin="miter" stroke-miterlimit="10"/>
</g>
<g>
<polyline points="1176.07,589.18 1253.13,590.57 1323.85,591.06 1388.73,588.17 1447.99,586.74 1502.21,586.72 1551.81,589.23 1597.48,586.92 1639.03,588.02 1677.15,588.21 1711.86,591.17 1743.65,591.06 1772.62,593 1799.18,587.43 1822.92,590.2 1844.75,588.41 1864.27,585.4 1881.98,585.58 1897.97,591.23 1912.66,591.89 1926.04,594.89 1938.41,590.2 1949.68,566.85 1960.04,355.17 1969.8,626.37 1976.54,575.67" fill="none" stroke="#808080" stroke-width="3.5" stroke-linejoin="round" stroke-linecap="butt"/>
<polygon points="1176.07,578.18 1178.54,585.78 1186.53,585.78 1180.06,590.48 1182.53,598.08 1176.07,593.38 1169.6,598.08 1172.07,590.48 1165.6,585.78 1173.6,585.78" fill="#808080" stroke="#808080" stroke-width="0.8" stroke-linejoin="miter"/>
<polygon points="1253.13,579.57 1255.6,587.17 1263.59,587.17 1257.12,591.87 1259.59,599.47 1253.13,594.78 1246.66,599.47 1249.13,591.87 1242.66,587.17 1250.66,587.17" fill="#808080" stroke="#808080" stroke-width="0.8" stroke-linejoin="miter"/>
<polygon points="1323.85,580.06 1326.32,587.66 1334.31,587.66 1327.84,592.36 1330.31,599.96 1323.85,595.26 1317.38,599.96 1319.85,592.36 1313.39,587.66 1321.38,587.66" fill="#808080" stroke="#808080" stroke-width="0.8" stroke-linejoin="miter"/>
<polygon points="1388.73,577.17 1391.2,584.77 1399.2,584.77 1392.73,589.47 1395.2,597.07 1388.73,592.37 1382.27,597.07 1384.74,589.47 1378.27,584.77 1386.26,584.77" fill="#808080" stroke="#808080" stroke-width="0.8" stroke-linejoin="miter"/>
<polygon points="1447.99,575.74 1450.46,583.34 1458.45,583.34 1451.98,588.04 1454.45,595.64 1447.99,590.95 1441.52,595.64 1443.99,588.04 1437.53,583.34 1445.52,583.34" fill="#808080" stroke="#808080" stroke-width="0.8" stroke-linejoin="miter"/>
<polygon points="1502.21,575.72 1504.68,583.32 1512.67,583.32 1506.21,588.02 1508.68,595.62 1502.21,590.92 1495.75,595.62 1498.21,588.02 1491.75,583.32 1499.74,583.32" fill="#808080" stroke="#808080" stroke-width="0.8" stroke-linejoin="miter"/>
<polygon points="1551.81,578.23 1554.28,585.83 1562.27,585.83 1555.8,590.53 1558.27,598.13 1551.81,593.43 1545.34,598.13 1547.81,590.53 1541.35,585.83 1549.34,585.83" fill="#808080" stroke="#808080" stroke-width="0.8" stroke-linejoin="miter"/>
<polygon points="1597.48,575.92 1599.95,583.52 1607.94,583.52 1601.48,588.21 1603.94,595.82 1597.48,591.12 1591.01,595.82 1593.48,588.21 1587.02,583.52 1595.01,583.52" fill="#808080" stroke="#808080" stroke-width="0.8" stroke-linejoin="miter"/>
<polygon points="1639.03,577.02 1641.5,584.62 1649.49,584.62 1643.02,589.32 1645.49,596.92 1639.03,592.22 1632.56,596.92 1635.03,589.32 1628.57,584.62 1636.56,584.62" fill="#808080" stroke="#808080" stroke-width="0.8" stroke-linejoin="miter"/>
<polygon points="1677.15,577.21 1679.62,584.81 1687.62,584.81 1681.15,589.51 1683.62,597.11 1677.15,592.41 1670.69,597.11 1673.16,589.51 1666.69,584.81 1674.68,584.81" fill="#808080" stroke="#808080" stroke-width="0.8" stroke-linejoin="miter"/>
<polygon points="1711.86,580.17 1714.33,587.77 1722.32,587.77 1715.86,592.46 1718.33,600.06 1711.86,595.37 1705.4,600.06 1707.87,592.46 1701.4,587.77 1709.39,587.77" fill="#808080" stroke="#808080" stroke-width="0.8" stroke-linejoin="miter"/>
<polygon points="1743.65,580.06 1746.12,587.66 1754.11,587.66 1747.65,592.36 1750.12,599.96 1743.65,595.27 1737.19,599.96 1739.65,592.36 1733.19,587.66 1741.18,587.66" fill="#808080" stroke="#808080" stroke-width="0.8" stroke-linejoin="miter"/>
<polygon points="1772.62,582 1775.09,589.6 1783.09,589.6 1776.62,594.3 1779.09,601.9 1772.62,597.2 1766.16,601.9 1768.63,594.3 1762.16,589.6 1770.15,589.6" fill="#808080" stroke="#808080" stroke-width="0.8" stroke-linejoin="miter"/>
<polygon points="1799.18,576.43 1801.65,584.03 1809.64,584.03 1803.18,588.72 1805.65,596.32 1799.18,591.63 1792.72,596.32 1795.19,588.72 1788.72,584.03 1796.71,584.03" fill="#808080" stroke="#808080" stroke-width="0.8" stroke-linejoin="miter"/>
<polygon points="1822.92,579.2 1825.39,586.8 1833.39,586.8 1826.92,591.5 1829.39,599.1 1822.92,594.4 1816.46,599.1 1818.93,591.5 1812.46,586.8 1820.45,586.8" fill="#808080" stroke="#808080" stroke-width="0.8" stroke-linejoin="miter"/>
<polygon points="1844.75,577.41 1847.22,585.01 1855.22,585.01 1848.75,589.7 1851.22,597.3 1844.75,592.61 1838.29,597.3 1840.76,589.7 1834.29,585.01 1842.28,585.01" fill="#808080" stroke="#808080" stroke-width="0.8" stroke-linejoin="miter"/>
<polygon points="1864.27,574.4 1866.74,582 1874.73,582 1868.27,586.69 1870.74,594.3 1864.27,589.6 1857.8,594.3 1860.27,586.69 1853.81,582 1861.8,582" fill="#808080" stroke="#808080" stroke-width="0.8" stroke-linejoin="miter"/>
<polygon points="1881.98,574.58 1884.45,582.18 1892.44,582.18 1885.97,586.87 1888.44,594.47 1881.98,589.78 1875.51,594.47 1877.98,586.87 1871.51,582.18 1879.51,582.18" fill="#808080" stroke="#808080" stroke-width="0.8" stroke-linejoin="miter"/>
<polygon points="1897.97,580.23 1900.44,587.84 1908.43,587.84 1901.97,592.53 1904.44,600.13 1897.97,595.44 1891.51,600.13 1893.98,592.53 1887.51,587.84 1895.5,587.84" fill="#808080" stroke="#808080" stroke-width="0.8" stroke-linejoin="miter"/>
<polygon points="1912.66,580.89 1915.13,588.49 1923.12,588.49 1916.66,593.18 1919.12,600.79 1912.66,596.09 1906.19,600.79 1908.66,593.18 1902.2,588.49 1910.19,588.49" fill="#808080" stroke="#808080" stroke-width="0.8" stroke-linejoin="miter"/>
<polygon points="1926.04,583.89 1928.51,591.49 1936.5,591.49 1930.04,596.19 1932.5,603.79 1926.04,599.1 1919.57,603.79 1922.04,596.19 1915.58,591.49 1923.57,591.49" fill="#808080" stroke="#808080" stroke-width="0.8" stroke-linejoin="miter"/>
<polygon points="1938.41,579.2 1940.88,586.8 1948.87,586.8 1942.41,591.5 1944.88,599.1 1938.41,594.4 1931.95,599.1 1934.42,591.5 1927.95,586.8 1935.94,586.8" fill="#808080" stroke="#808080" stroke-width="0.8" stroke-linejoin="miter"/>
<polygon points="1949.68,555.85 1952.15,563.45 1960.14,563.45 1953.68,568.15 1956.15,575.75 1949.68,571.05 1943.21,575.75 1945.68,568.15 1939.22,563.45 1947.21,563.45" fill="#808080" stroke="#808080" stroke-width="0.8" stroke-linejoin="miter"/>
<polygon points="1960.04,344.17 1962.51,351.77 1970.5,351.77 1964.04,356.46 1966.51,364.06 1960.04,359.37 1953.58,364.06 1956.05,356.46 1949.58,351.77 1957.57,351.77" fill="#808080" stroke="#808080" stroke-width="0.8" stroke-linejoin="miter"/>
<polygon points="1969.8,615.37 1972.27,622.97 1980.26,622.97 1973.8,627.66 1976.27,635.27 1969.8,630.57 1963.33,635.27 1965.8,627.66 1959.34,622.97 1967.33,622.97" fill="#808080" stroke="#808080" stroke-width="0.8" stroke-linejoin="miter"/>
<polygon points="1976.54,564.67 1979.01,572.27 1987,572.27 1980.54,576.97 1983.01,584.57 1976.54,579.87 1970.07,584.57 1972.54,576.97 1966.08,572.27 1974.07,572.27" fill="#808080" stroke="#808080" stroke-width="0.8" stroke-linejoin="miter"/>
</g>
<text transform="translate(1181.8 717.9) scale(1.005 1)" class="tk" text-anchor="middle">-0.2</text>
<text transform="translate(1282.4 717.9) scale(1.005 1)" class="tk" text-anchor="middle">-0.1</text>
<text transform="translate(1383 717.9) scale(1.005 1)" class="tk" text-anchor="middle">0</text>
<text transform="translate(1483.6 717.9) scale(1.005 1)" class="tk" text-anchor="middle">0.1</text>
<text transform="translate(1584.2 717.9) scale(1.005 1)" class="tk" text-anchor="middle">0.2</text>
<text transform="translate(1684.8 717.9) scale(1.005 1)" class="tk" text-anchor="middle">0.3</text>
<text transform="translate(1785.4 717.9) scale(1.005 1)" class="tk" text-anchor="middle">0.4</text>
<text transform="translate(1886 717.9) scale(1.005 1)" class="tk" text-anchor="middle">0.5</text>
<text transform="translate(1986.6 717.9) scale(1.005 1)" class="tk" text-anchor="middle">0.6</text>
<text transform="translate(1120.2 691.2) scale(1.005 1)" class="tk" text-anchor="end">-0.05</text>
<text transform="translate(1120.2 599.5) scale(1.005 1)" class="tk" text-anchor="end">0</text>
<text transform="translate(1120.2 507.8) scale(1.005 1)" class="tk" text-anchor="end">0.05</text>
<text transform="translate(1120.2 416.1) scale(1.005 1)" class="tk" text-anchor="end">0.1</text>
<text transform="translate(1120.2 324.4) scale(1.005 1)" class="tk" text-anchor="end">0.15</text>
<text transform="translate(1120.2 232.7) scale(1.005 1)" class="tk" text-anchor="end">0.2</text>
<text transform="translate(1120.2 141) scale(1.005 1)" class="tk" text-anchor="end">0.25</text>
<text transform="translate(1120.2 49.3) scale(1.005 1)" class="tk" text-anchor="end">0.3</text>
<rect x="1154.3" y="58.2" width="525" height="84" fill="#ffffff" stroke="#262626" stroke-width="1.3"/>
<line x1="1160.5" y1="73.8" x2="1226.5" y2="73.8" stroke="#ff0000" stroke-width="3.5"/>
<circle cx="1193.7" cy="73.8" r="6.3" fill="none" stroke="#ff0000" stroke-width="3.4"/>
<text transform="translate(1232.2 82.4) scale(1.065 1)" class="lg">OBEDO</text>
<line x1="1160.5" y1="100.35" x2="1226.5" y2="100.35" stroke="#00ff00" stroke-width="3.5"/>
<rect x="1188.25" y="95.4" width="10.9" height="9.9" fill="none" stroke="#00ff00" stroke-width="3.4"/>
<text transform="translate(1232.2 108.95) scale(1.065 1)" class="lg">EDO</text>
<line x1="1160.5" y1="126.9" x2="1226.5" y2="126.9" stroke="#0000ff" stroke-width="3.5"/>
<polygon points="1193.7,118.7 1199.6,126.9 1193.7,135.1 1187.8,126.9" fill="none" stroke="#0000ff" stroke-width="3.4" stroke-linejoin="miter" stroke-miterlimit="10"/>
<text transform="translate(1232.2 135.5) scale(1.065 1)" class="lg">ADHHO</text>
<line x1="1337" y1="73.8" x2="1403" y2="73.8" stroke="#00ffff" stroke-width="3.5"/>
<polygon points="1370.2,66 1377.85,78.5 1362.55,78.5" fill="none" stroke="#00ffff" stroke-width="3.4" stroke-linejoin="miter" stroke-miterlimit="10"/>
<text transform="translate(1408.7 82.4) scale(1.065 1)" class="lg">OBMPA</text>
<line x1="1337" y1="100.35" x2="1403" y2="100.35" stroke="#ff00ff" stroke-width="3.5"/>
<polygon points="1370.2,108.15 1377.85,95.65 1362.55,95.65" fill="none" stroke="#ff00ff" stroke-width="3.4" stroke-linejoin="miter" stroke-miterlimit="10"/>
<text transform="translate(1408.7 108.95) scale(1.065 1)" class="lg">MGTO</text>
<line x1="1337" y1="126.9" x2="1403" y2="126.9" stroke="#ffff00" stroke-width="3.5"/>
<polygon points="1379,126.9 1365.8,134.05 1365.8,119.75" fill="none" stroke="#ffff00" stroke-width="3.4" stroke-linejoin="miter" stroke-miterlimit="10"/>
<text transform="translate(1408.7 135.5) scale(1.065 1)" class="lg">IAOA</text>
<line x1="1512.2" y1="73.8" x2="1578.2" y2="73.8" stroke="#000000" stroke-width="3.5"/>
<polygon points="1536.6,73.8 1549.8,80.95 1549.8,66.65" fill="none" stroke="#000000" stroke-width="3.4" stroke-linejoin="miter" stroke-miterlimit="10"/>
<text transform="translate(1583.9 82.4) scale(1.065 1)" class="lg">HDE</text>
<line x1="1512.2" y1="100.35" x2="1578.2" y2="100.35" stroke="#808080" stroke-width="3.5"/>
<polygon points="1545.4,89.35 1547.87,96.95 1555.86,96.95 1549.4,101.65 1551.87,109.25 1545.4,104.55 1538.93,109.25 1541.4,101.65 1534.94,96.95 1542.93,96.95" fill="#808080" stroke="#808080" stroke-width="0.8" stroke-linejoin="miter"/>
<text transform="translate(1583.9 108.95) scale(1.065 1)" class="lg">OBGBO</text>
<text transform="translate(1559.2 755.1) scale(1.018 1)" class="ax" text-anchor="middle">PV Cell Voltage (V)</text>
<text transform="translate(1043.5 359.5) rotate(-90) scale(0.955 1)" class="yl" text-anchor="middle">RE</text>
<text transform="translate(1547.6 812.6)" class="cap" text-anchor="middle">(b)</text>
</g>
</svg>
</body>
</html>
